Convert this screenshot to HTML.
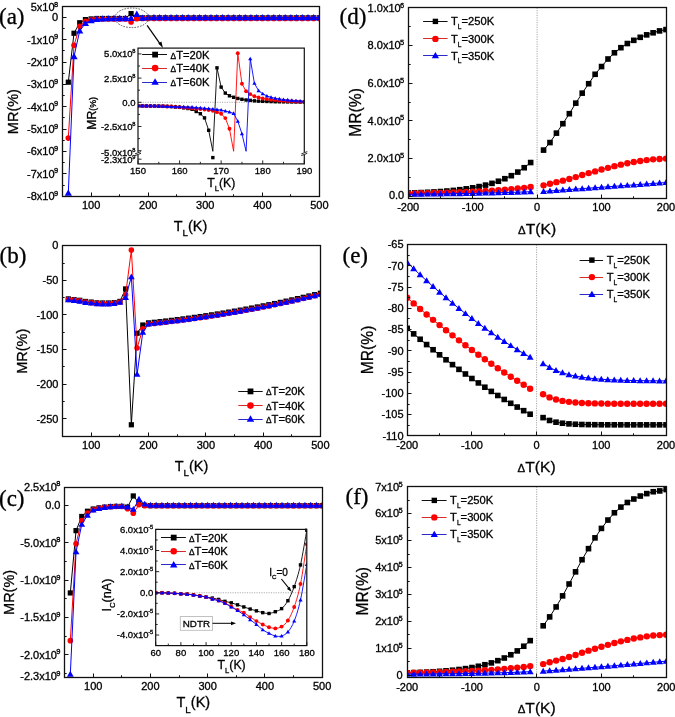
<!DOCTYPE html>
<html><head><meta charset="utf-8"><style>
html,body{margin:0;padding:0;background:#fff;width:675px;height:717px;overflow:hidden}
svg{display:block;will-change:transform}
text{stroke:#000;stroke-width:0.3px;paint-order:stroke}
</style></head><body>
<svg width="675" height="717" viewBox="0 0 675 717">
<rect width="675" height="717" fill="#fff"/>
<defs><clipPath id="cA"><rect x="62.6" y="6.2" width="256.8" height="193"/></clipPath><clipPath id="cB"><rect x="62.6" y="245.7" width="257.6" height="190.5"/></clipPath><clipPath id="cC"><rect x="64.6" y="487" width="257.5" height="193"/></clipPath><clipPath id="cAi"><rect x="138" y="48" width="166.3" height="103.5"/></clipPath></defs>
<g clip-path="url(#cA)">
<polyline points="68.31,82.2 74.01,33.25 79.72,22.74 85.43,19.61 91.13,18.94 96.84,18.49 102.55,18.49 108.25,18.49 113.96,18.49 119.67,18.49 125.37,18.49 131.08,13.58 136.79,18.27 142.49,17.82 148.2,17.82 153.91,17.82 159.61,17.82 165.32,17.82 171.03,17.82 176.73,17.82 182.44,17.82 188.15,17.82 193.85,17.82 199.56,17.82 205.27,17.82 210.97,17.82 216.68,17.82 222.39,17.82 228.09,17.82 233.8,17.82 239.51,17.82 245.21,17.82 250.92,17.82 256.63,17.82 262.33,17.82 268.04,17.82 273.75,17.82 279.45,17.82 285.16,17.82 290.87,17.82 296.57,17.82 302.28,17.82 307.99,17.82 313.69,17.82 319.4,17.82" fill="none" stroke="#000" stroke-width="1" stroke-linejoin="round" />
<rect x="65.71" y="79.6" width="5.2" height="5.2" fill="#000"/>
<rect x="71.41" y="30.65" width="5.2" height="5.2" fill="#000"/>
<rect x="77.12" y="20.14" width="5.2" height="5.2" fill="#000"/>
<rect x="82.83" y="17.01" width="5.2" height="5.2" fill="#000"/>
<rect x="88.53" y="16.34" width="5.2" height="5.2" fill="#000"/>
<rect x="94.24" y="15.89" width="5.2" height="5.2" fill="#000"/>
<rect x="99.95" y="15.89" width="5.2" height="5.2" fill="#000"/>
<rect x="105.65" y="15.89" width="5.2" height="5.2" fill="#000"/>
<rect x="111.36" y="15.89" width="5.2" height="5.2" fill="#000"/>
<rect x="117.07" y="15.89" width="5.2" height="5.2" fill="#000"/>
<rect x="122.77" y="15.89" width="5.2" height="5.2" fill="#000"/>
<rect x="128.48" y="10.98" width="5.2" height="5.2" fill="#000"/>
<rect x="134.19" y="15.67" width="5.2" height="5.2" fill="#000"/>
<rect x="139.89" y="15.22" width="5.2" height="5.2" fill="#000"/>
<rect x="145.6" y="15.22" width="5.2" height="5.2" fill="#000"/>
<rect x="151.31" y="15.22" width="5.2" height="5.2" fill="#000"/>
<rect x="157.01" y="15.22" width="5.2" height="5.2" fill="#000"/>
<rect x="162.72" y="15.22" width="5.2" height="5.2" fill="#000"/>
<rect x="168.43" y="15.22" width="5.2" height="5.2" fill="#000"/>
<rect x="174.13" y="15.22" width="5.2" height="5.2" fill="#000"/>
<rect x="179.84" y="15.22" width="5.2" height="5.2" fill="#000"/>
<rect x="185.55" y="15.22" width="5.2" height="5.2" fill="#000"/>
<rect x="191.25" y="15.22" width="5.2" height="5.2" fill="#000"/>
<rect x="196.96" y="15.22" width="5.2" height="5.2" fill="#000"/>
<rect x="202.67" y="15.22" width="5.2" height="5.2" fill="#000"/>
<rect x="208.37" y="15.22" width="5.2" height="5.2" fill="#000"/>
<rect x="214.08" y="15.22" width="5.2" height="5.2" fill="#000"/>
<rect x="219.79" y="15.22" width="5.2" height="5.2" fill="#000"/>
<rect x="225.49" y="15.22" width="5.2" height="5.2" fill="#000"/>
<rect x="231.2" y="15.22" width="5.2" height="5.2" fill="#000"/>
<rect x="236.91" y="15.22" width="5.2" height="5.2" fill="#000"/>
<rect x="242.61" y="15.22" width="5.2" height="5.2" fill="#000"/>
<rect x="248.32" y="15.22" width="5.2" height="5.2" fill="#000"/>
<rect x="254.03" y="15.22" width="5.2" height="5.2" fill="#000"/>
<rect x="259.73" y="15.22" width="5.2" height="5.2" fill="#000"/>
<rect x="265.44" y="15.22" width="5.2" height="5.2" fill="#000"/>
<rect x="271.15" y="15.22" width="5.2" height="5.2" fill="#000"/>
<rect x="276.85" y="15.22" width="5.2" height="5.2" fill="#000"/>
<rect x="282.56" y="15.22" width="5.2" height="5.2" fill="#000"/>
<rect x="288.27" y="15.22" width="5.2" height="5.2" fill="#000"/>
<rect x="293.97" y="15.22" width="5.2" height="5.2" fill="#000"/>
<rect x="299.68" y="15.22" width="5.2" height="5.2" fill="#000"/>
<rect x="305.39" y="15.22" width="5.2" height="5.2" fill="#000"/>
<rect x="311.09" y="15.22" width="5.2" height="5.2" fill="#000"/>
<rect x="316.8" y="15.22" width="5.2" height="5.2" fill="#000"/>
</g>
<g clip-path="url(#cA)">
<polyline points="68.31,138.08 74.01,45.32 79.72,26.32 85.43,21.18 91.13,19.84 96.84,19.16 102.55,18.94 108.25,18.94 113.96,18.94 119.67,18.94 125.37,18.94 131.08,22.07 136.79,18.72 142.49,18.38 148.2,18.38 153.91,18.38 159.61,18.38 165.32,18.38 171.03,18.38 176.73,18.38 182.44,18.38 188.15,18.38 193.85,18.38 199.56,18.38 205.27,18.38 210.97,18.38 216.68,18.38 222.39,18.38 228.09,18.38 233.8,18.38 239.51,18.38 245.21,18.38 250.92,18.38 256.63,18.38 262.33,18.38 268.04,18.38 273.75,18.38 279.45,18.38 285.16,18.38 290.87,18.38 296.57,18.38 302.28,18.38 307.99,18.38 313.69,18.38 319.4,18.38" fill="none" stroke="#ff0000" stroke-width="1" stroke-linejoin="round" />
<circle cx="68.31" cy="138.08" r="2.8" fill="#ff0000"/>
<circle cx="74.01" cy="45.32" r="2.8" fill="#ff0000"/>
<circle cx="79.72" cy="26.32" r="2.8" fill="#ff0000"/>
<circle cx="85.43" cy="21.18" r="2.8" fill="#ff0000"/>
<circle cx="91.13" cy="19.84" r="2.8" fill="#ff0000"/>
<circle cx="96.84" cy="19.16" r="2.8" fill="#ff0000"/>
<circle cx="102.55" cy="18.94" r="2.8" fill="#ff0000"/>
<circle cx="108.25" cy="18.94" r="2.8" fill="#ff0000"/>
<circle cx="113.96" cy="18.94" r="2.8" fill="#ff0000"/>
<circle cx="119.67" cy="18.94" r="2.8" fill="#ff0000"/>
<circle cx="125.37" cy="18.94" r="2.8" fill="#ff0000"/>
<circle cx="131.08" cy="22.07" r="2.8" fill="#ff0000"/>
<circle cx="136.79" cy="18.72" r="2.8" fill="#ff0000"/>
<circle cx="142.49" cy="18.38" r="2.8" fill="#ff0000"/>
<circle cx="148.2" cy="18.38" r="2.8" fill="#ff0000"/>
<circle cx="153.91" cy="18.38" r="2.8" fill="#ff0000"/>
<circle cx="159.61" cy="18.38" r="2.8" fill="#ff0000"/>
<circle cx="165.32" cy="18.38" r="2.8" fill="#ff0000"/>
<circle cx="171.03" cy="18.38" r="2.8" fill="#ff0000"/>
<circle cx="176.73" cy="18.38" r="2.8" fill="#ff0000"/>
<circle cx="182.44" cy="18.38" r="2.8" fill="#ff0000"/>
<circle cx="188.15" cy="18.38" r="2.8" fill="#ff0000"/>
<circle cx="193.85" cy="18.38" r="2.8" fill="#ff0000"/>
<circle cx="199.56" cy="18.38" r="2.8" fill="#ff0000"/>
<circle cx="205.27" cy="18.38" r="2.8" fill="#ff0000"/>
<circle cx="210.97" cy="18.38" r="2.8" fill="#ff0000"/>
<circle cx="216.68" cy="18.38" r="2.8" fill="#ff0000"/>
<circle cx="222.39" cy="18.38" r="2.8" fill="#ff0000"/>
<circle cx="228.09" cy="18.38" r="2.8" fill="#ff0000"/>
<circle cx="233.8" cy="18.38" r="2.8" fill="#ff0000"/>
<circle cx="239.51" cy="18.38" r="2.8" fill="#ff0000"/>
<circle cx="245.21" cy="18.38" r="2.8" fill="#ff0000"/>
<circle cx="250.92" cy="18.38" r="2.8" fill="#ff0000"/>
<circle cx="256.63" cy="18.38" r="2.8" fill="#ff0000"/>
<circle cx="262.33" cy="18.38" r="2.8" fill="#ff0000"/>
<circle cx="268.04" cy="18.38" r="2.8" fill="#ff0000"/>
<circle cx="273.75" cy="18.38" r="2.8" fill="#ff0000"/>
<circle cx="279.45" cy="18.38" r="2.8" fill="#ff0000"/>
<circle cx="285.16" cy="18.38" r="2.8" fill="#ff0000"/>
<circle cx="290.87" cy="18.38" r="2.8" fill="#ff0000"/>
<circle cx="296.57" cy="18.38" r="2.8" fill="#ff0000"/>
<circle cx="302.28" cy="18.38" r="2.8" fill="#ff0000"/>
<circle cx="307.99" cy="18.38" r="2.8" fill="#ff0000"/>
<circle cx="313.69" cy="18.38" r="2.8" fill="#ff0000"/>
<circle cx="319.4" cy="18.38" r="2.8" fill="#ff0000"/>
</g>
<g clip-path="url(#cA)">
<polyline points="68.31,193.07 74.01,56.49 79.72,30.79 85.43,23.41 91.13,20.51 96.84,19.39 102.55,18.94 108.25,18.72 113.96,18.49 119.67,18.49 125.37,18.49 131.08,18.27 136.79,14.25 142.49,18.05 148.2,17.6 153.91,17.6 159.61,17.6 165.32,17.6 171.03,17.6 176.73,17.6 182.44,17.6 188.15,17.6 193.85,17.6 199.56,17.6 205.27,17.6 210.97,17.6 216.68,17.6 222.39,17.6 228.09,17.6 233.8,17.6 239.51,17.6 245.21,17.6 250.92,17.6 256.63,17.6 262.33,17.6 268.04,17.6 273.75,17.6 279.45,17.6 285.16,17.6 290.87,17.6 296.57,17.6 302.28,17.6 307.99,17.6 313.69,17.6 319.4,17.6" fill="none" stroke="#0000ff" stroke-width="1" stroke-linejoin="round" />
<polygon points="68.31,189.43 71.92,195.7 64.69,195.7" fill="#0000ff"/>
<polygon points="74.01,52.86 77.63,59.13 70.4,59.13" fill="#0000ff"/>
<polygon points="79.72,27.15 83.34,33.42 76.1,33.42" fill="#0000ff"/>
<polygon points="85.43,19.77 89.04,26.05 81.81,26.05" fill="#0000ff"/>
<polygon points="91.13,16.87 94.75,23.14 87.52,23.14" fill="#0000ff"/>
<polygon points="96.84,15.75 100.46,22.02 93.22,22.02" fill="#0000ff"/>
<polygon points="102.55,15.3 106.16,21.58 98.93,21.58" fill="#0000ff"/>
<polygon points="108.25,15.08 111.87,21.35 104.64,21.35" fill="#0000ff"/>
<polygon points="113.96,14.86 117.58,21.13 110.34,21.13" fill="#0000ff"/>
<polygon points="119.67,14.86 123.28,21.13 116.05,21.13" fill="#0000ff"/>
<polygon points="125.37,14.86 128.99,21.13 121.76,21.13" fill="#0000ff"/>
<polygon points="131.08,14.63 134.7,20.9 127.46,20.9" fill="#0000ff"/>
<polygon points="136.79,10.61 140.4,16.88 133.17,16.88" fill="#0000ff"/>
<polygon points="142.49,14.41 146.11,20.68 138.88,20.68" fill="#0000ff"/>
<polygon points="148.2,13.96 151.82,20.23 144.58,20.23" fill="#0000ff"/>
<polygon points="153.91,13.96 157.52,20.23 150.29,20.23" fill="#0000ff"/>
<polygon points="159.61,13.96 163.23,20.23 156,20.23" fill="#0000ff"/>
<polygon points="165.32,13.96 168.94,20.23 161.7,20.23" fill="#0000ff"/>
<polygon points="171.03,13.96 174.64,20.23 167.41,20.23" fill="#0000ff"/>
<polygon points="176.73,13.96 180.35,20.23 173.12,20.23" fill="#0000ff"/>
<polygon points="182.44,13.96 186.06,20.23 178.82,20.23" fill="#0000ff"/>
<polygon points="188.15,13.96 191.76,20.23 184.53,20.23" fill="#0000ff"/>
<polygon points="193.85,13.96 197.47,20.23 190.24,20.23" fill="#0000ff"/>
<polygon points="199.56,13.96 203.18,20.23 195.94,20.23" fill="#0000ff"/>
<polygon points="205.27,13.96 208.88,20.23 201.65,20.23" fill="#0000ff"/>
<polygon points="210.97,13.96 214.59,20.23 207.36,20.23" fill="#0000ff"/>
<polygon points="216.68,13.96 220.3,20.23 213.06,20.23" fill="#0000ff"/>
<polygon points="222.39,13.96 226,20.23 218.77,20.23" fill="#0000ff"/>
<polygon points="228.09,13.96 231.71,20.23 224.48,20.23" fill="#0000ff"/>
<polygon points="233.8,13.96 237.42,20.23 230.18,20.23" fill="#0000ff"/>
<polygon points="239.51,13.96 243.12,20.23 235.89,20.23" fill="#0000ff"/>
<polygon points="245.21,13.96 248.83,20.23 241.6,20.23" fill="#0000ff"/>
<polygon points="250.92,13.96 254.54,20.23 247.3,20.23" fill="#0000ff"/>
<polygon points="256.63,13.96 260.24,20.23 253.01,20.23" fill="#0000ff"/>
<polygon points="262.33,13.96 265.95,20.23 258.72,20.23" fill="#0000ff"/>
<polygon points="268.04,13.96 271.66,20.23 264.42,20.23" fill="#0000ff"/>
<polygon points="273.75,13.96 277.36,20.23 270.13,20.23" fill="#0000ff"/>
<polygon points="279.45,13.96 283.07,20.23 275.84,20.23" fill="#0000ff"/>
<polygon points="285.16,13.96 288.78,20.23 281.54,20.23" fill="#0000ff"/>
<polygon points="290.87,13.96 294.48,20.23 287.25,20.23" fill="#0000ff"/>
<polygon points="296.57,13.96 300.19,20.23 292.96,20.23" fill="#0000ff"/>
<polygon points="302.28,13.96 305.9,20.23 298.66,20.23" fill="#0000ff"/>
<polygon points="307.99,13.96 311.6,20.23 304.37,20.23" fill="#0000ff"/>
<polygon points="313.69,13.96 317.31,20.23 310.08,20.23" fill="#0000ff"/>
<polygon points="319.4,13.96 323.02,20.23 315.78,20.23" fill="#0000ff"/>
</g>
<rect x="62.5" y="6.5" width="257" height="190" fill="none" stroke="#111" stroke-width="1.3"/>
<line x1="62.5" y1="17.5" x2="66.5" y2="17.5" stroke="#111" stroke-width="1" />
<line x1="62.5" y1="39.5" x2="66.5" y2="39.5" stroke="#111" stroke-width="1" />
<line x1="62.5" y1="62.5" x2="66.5" y2="62.5" stroke="#111" stroke-width="1" />
<line x1="62.5" y1="84.5" x2="66.5" y2="84.5" stroke="#111" stroke-width="1" />
<line x1="62.5" y1="106.5" x2="66.5" y2="106.5" stroke="#111" stroke-width="1" />
<line x1="62.5" y1="129.5" x2="66.5" y2="129.5" stroke="#111" stroke-width="1" />
<line x1="62.5" y1="151.5" x2="66.5" y2="151.5" stroke="#111" stroke-width="1" />
<line x1="62.5" y1="173.5" x2="66.5" y2="173.5" stroke="#111" stroke-width="1" />
<line x1="62.5" y1="196.5" x2="66.5" y2="196.5" stroke="#111" stroke-width="1" />
<line x1="62.5" y1="28.5" x2="64.7" y2="28.5" stroke="#111" stroke-width="1" />
<line x1="62.5" y1="50.5" x2="64.7" y2="50.5" stroke="#111" stroke-width="1" />
<line x1="62.5" y1="73.5" x2="64.7" y2="73.5" stroke="#111" stroke-width="1" />
<line x1="62.5" y1="95.5" x2="64.7" y2="95.5" stroke="#111" stroke-width="1" />
<line x1="62.5" y1="117.5" x2="64.7" y2="117.5" stroke="#111" stroke-width="1" />
<line x1="62.5" y1="140.5" x2="64.7" y2="140.5" stroke="#111" stroke-width="1" />
<line x1="62.5" y1="162.5" x2="64.7" y2="162.5" stroke="#111" stroke-width="1" />
<line x1="62.5" y1="185.5" x2="64.7" y2="185.5" stroke="#111" stroke-width="1" />
<line x1="91.5" y1="196.5" x2="91.5" y2="192.5" stroke="#111" stroke-width="1" />
<line x1="148.5" y1="196.5" x2="148.5" y2="192.5" stroke="#111" stroke-width="1" />
<line x1="205.5" y1="196.5" x2="205.5" y2="192.5" stroke="#111" stroke-width="1" />
<line x1="262.5" y1="196.5" x2="262.5" y2="192.5" stroke="#111" stroke-width="1" />
<line x1="319.5" y1="196.5" x2="319.5" y2="192.5" stroke="#111" stroke-width="1" />
<line x1="119.5" y1="196.5" x2="119.5" y2="194.3" stroke="#111" stroke-width="1" />
<line x1="176.5" y1="196.5" x2="176.5" y2="194.3" stroke="#111" stroke-width="1" />
<line x1="233.5" y1="196.5" x2="233.5" y2="194.3" stroke="#111" stroke-width="1" />
<line x1="290.5" y1="196.5" x2="290.5" y2="194.3" stroke="#111" stroke-width="1" />
<text transform="translate(58.1,11.18) scale(1.05,1)" font-size="10.5" text-anchor="end" font-family='"Liberation Sans", sans-serif' >5x10<tspan dx="-0.6" dy="-4.41" font-size="7.14">8</tspan></text>
<text transform="translate(58.1,21.16) scale(1.05,1)" font-size="10.5" text-anchor="end" font-family='"Liberation Sans", sans-serif' >0</text>
<text transform="translate(58.1,43.51) scale(1.05,1)" font-size="10.5" text-anchor="end" font-family='"Liberation Sans", sans-serif' >-1x10<tspan dx="-0.6" dy="-4.41" font-size="7.14">9</tspan></text>
<text transform="translate(58.1,65.86) scale(1.05,1)" font-size="10.5" text-anchor="end" font-family='"Liberation Sans", sans-serif' >-2x10<tspan dx="-0.6" dy="-4.41" font-size="7.14">9</tspan></text>
<text transform="translate(58.1,88.22) scale(1.05,1)" font-size="10.5" text-anchor="end" font-family='"Liberation Sans", sans-serif' >-3x10<tspan dx="-0.6" dy="-4.41" font-size="7.14">9</tspan></text>
<text transform="translate(58.1,110.57) scale(1.05,1)" font-size="10.5" text-anchor="end" font-family='"Liberation Sans", sans-serif' >-4x10<tspan dx="-0.6" dy="-4.41" font-size="7.14">9</tspan></text>
<text transform="translate(58.1,132.92) scale(1.05,1)" font-size="10.5" text-anchor="end" font-family='"Liberation Sans", sans-serif' >-5x10<tspan dx="-0.6" dy="-4.41" font-size="7.14">9</tspan></text>
<text transform="translate(58.1,155.27) scale(1.05,1)" font-size="10.5" text-anchor="end" font-family='"Liberation Sans", sans-serif' >-6x10<tspan dx="-0.6" dy="-4.41" font-size="7.14">9</tspan></text>
<text transform="translate(58.1,177.63) scale(1.05,1)" font-size="10.5" text-anchor="end" font-family='"Liberation Sans", sans-serif' >-7x10<tspan dx="-0.6" dy="-4.41" font-size="7.14">9</tspan></text>
<text transform="translate(58.1,199.98) scale(1.05,1)" font-size="10.5" text-anchor="end" font-family='"Liberation Sans", sans-serif' >-8x10<tspan dx="-0.6" dy="-4.41" font-size="7.14">9</tspan></text>
<text transform="translate(91.13,209.2) scale(1.05,1)" font-size="10.5" text-anchor="middle" font-family='"Liberation Sans", sans-serif' >100</text>
<text transform="translate(148.2,209.2) scale(1.05,1)" font-size="10.5" text-anchor="middle" font-family='"Liberation Sans", sans-serif' >200</text>
<text transform="translate(205.27,209.2) scale(1.05,1)" font-size="10.5" text-anchor="middle" font-family='"Liberation Sans", sans-serif' >300</text>
<text transform="translate(262.33,209.2) scale(1.05,1)" font-size="10.5" text-anchor="middle" font-family='"Liberation Sans", sans-serif' >400</text>
<text transform="translate(319.4,209.2) scale(1.05,1)" font-size="10.5" text-anchor="middle" font-family='"Liberation Sans", sans-serif' >500</text>
<text transform="translate(190.5,230.5) scale(1.0,1)" font-size="14.5" text-anchor="middle" font-family='"Liberation Sans", sans-serif' >T<tspan dy="5.51" font-size="9.86">L</tspan><tspan dy="-5.51">(K)</tspan></text>
<text transform="translate(17.9,111.6) rotate(-90) scale(1,1.0)" font-size="14.5" text-anchor="middle" font-family='"Liberation Sans", sans-serif' >MR(%)</text>
<text transform="translate(-1,23.6) scale(1.0,1)" font-size="23" text-anchor="start" font-family='"Liberation Serif", serif' >(a)</text>
<ellipse cx="131.8" cy="17.8" rx="16.8" ry="9.8" fill="none" stroke="#444" stroke-width="0.9" stroke-dasharray="1.6,1.2"/>
<line x1="147.1" y1="25.4" x2="160.6" y2="44.6" stroke="#000" stroke-width="1.2" />
<polygon points="162.9,47.9 158.3,43.6 161.4,41.5" fill="#000"/>
<rect x="138" y="48.1" width="166.3" height="115.8" fill="#fff"/>
<line x1="138" y1="102.3" x2="304.3" y2="102.3" stroke="#999" stroke-width="0.8" stroke-dasharray="1.2,1.2"/>
<clipPath id="cAi2"><rect x="138" y="44" width="166.3" height="119.9"/></clipPath><g clip-path="url(#cAi2)">
<polyline points="138,105.78 142.16,105.82 146.31,105.85 150.47,105.88 154.63,105.98 158.79,106.08 162.94,106.17 167.1,106.37 171.26,106.56 175.42,106.95 179.57,107.33 183.73,107.82 187.89,108.5 192.05,109.27 196.21,111.5 200.36,113.72 204.52,117.88 208.68,130.28 212.84,151.3 216.99,67.84 221.15,87.1 225.31,93.1 229.47,95.81 233.62,97.27 237.78,98.43 241.94,99.3 246.09,99.98 250.25,100.36 254.41,100.85 258.57,101.14 262.73,101.33 266.88,101.46 271.04,101.59 275.2,101.72 279.36,101.78 283.51,101.85 287.67,101.91 291.83,101.96 295.99,102.01 300.14,102.06 304.3,102.11" fill="none" stroke="#000" stroke-width="0.9" stroke-linejoin="round" />
<rect x="136.3" y="104.08" width="3.4" height="3.4" fill="#000"/>
<rect x="140.46" y="104.12" width="3.4" height="3.4" fill="#000"/>
<rect x="144.62" y="104.15" width="3.4" height="3.4" fill="#000"/>
<rect x="148.77" y="104.18" width="3.4" height="3.4" fill="#000"/>
<rect x="152.93" y="104.28" width="3.4" height="3.4" fill="#000"/>
<rect x="157.09" y="104.38" width="3.4" height="3.4" fill="#000"/>
<rect x="161.25" y="104.47" width="3.4" height="3.4" fill="#000"/>
<rect x="165.4" y="104.67" width="3.4" height="3.4" fill="#000"/>
<rect x="169.56" y="104.86" width="3.4" height="3.4" fill="#000"/>
<rect x="173.72" y="105.25" width="3.4" height="3.4" fill="#000"/>
<rect x="177.88" y="105.63" width="3.4" height="3.4" fill="#000"/>
<rect x="182.03" y="106.12" width="3.4" height="3.4" fill="#000"/>
<rect x="186.19" y="106.8" width="3.4" height="3.4" fill="#000"/>
<rect x="190.35" y="107.57" width="3.4" height="3.4" fill="#000"/>
<rect x="194.51" y="109.8" width="3.4" height="3.4" fill="#000"/>
<rect x="198.66" y="112.02" width="3.4" height="3.4" fill="#000"/>
<rect x="202.82" y="116.18" width="3.4" height="3.4" fill="#000"/>
<rect x="206.98" y="128.58" width="3.4" height="3.4" fill="#000"/>
<rect x="211.14" y="155.9" width="3.4" height="3.4" fill="#000"/>
<rect x="215.29" y="66.14" width="3.4" height="3.4" fill="#000"/>
<rect x="219.45" y="85.4" width="3.4" height="3.4" fill="#000"/>
<rect x="223.61" y="91.4" width="3.4" height="3.4" fill="#000"/>
<rect x="227.77" y="94.11" width="3.4" height="3.4" fill="#000"/>
<rect x="231.92" y="95.57" width="3.4" height="3.4" fill="#000"/>
<rect x="236.08" y="96.73" width="3.4" height="3.4" fill="#000"/>
<rect x="240.24" y="97.6" width="3.4" height="3.4" fill="#000"/>
<rect x="244.4" y="98.28" width="3.4" height="3.4" fill="#000"/>
<rect x="248.55" y="98.66" width="3.4" height="3.4" fill="#000"/>
<rect x="252.71" y="99.15" width="3.4" height="3.4" fill="#000"/>
<rect x="256.87" y="99.44" width="3.4" height="3.4" fill="#000"/>
<rect x="261.03" y="99.63" width="3.4" height="3.4" fill="#000"/>
<rect x="265.18" y="99.76" width="3.4" height="3.4" fill="#000"/>
<rect x="269.34" y="99.89" width="3.4" height="3.4" fill="#000"/>
<rect x="273.5" y="100.02" width="3.4" height="3.4" fill="#000"/>
<rect x="277.66" y="100.08" width="3.4" height="3.4" fill="#000"/>
<rect x="281.81" y="100.15" width="3.4" height="3.4" fill="#000"/>
<rect x="285.97" y="100.21" width="3.4" height="3.4" fill="#000"/>
<rect x="290.13" y="100.26" width="3.4" height="3.4" fill="#000"/>
<rect x="294.29" y="100.31" width="3.4" height="3.4" fill="#000"/>
<rect x="298.44" y="100.36" width="3.4" height="3.4" fill="#000"/>
<rect x="302.6" y="100.41" width="3.4" height="3.4" fill="#000"/>
<polyline points="138,105.78 142.16,105.86 146.31,105.94 150.47,106.02 154.63,106.09 158.79,106.17 162.94,106.3 167.1,106.43 171.26,106.56 175.42,106.85 179.57,107.14 183.73,107.62 187.89,107.91 192.05,108.3 196.21,108.69 200.36,109.08 204.52,109.56 208.68,110.04 212.84,110.72 216.99,112.17 221.15,113.72 225.31,118.08 229.47,128.82 233.62,151.3 237.78,53.22 241.94,83.81 246.09,91.26 250.25,94.17 254.41,96.3 258.57,97.46 262.73,98.43 266.88,99.11 271.04,99.69 275.2,100.07 279.36,100.46 283.51,100.75 287.67,101.04 291.83,101.28 295.99,101.53 300.14,101.67 304.3,101.82" fill="none" stroke="#ff0000" stroke-width="0.9" stroke-linejoin="round" />
<circle cx="138" cy="105.78" r="1.95" fill="#ff0000"/>
<circle cx="142.16" cy="105.86" r="1.95" fill="#ff0000"/>
<circle cx="146.31" cy="105.94" r="1.95" fill="#ff0000"/>
<circle cx="150.47" cy="106.02" r="1.95" fill="#ff0000"/>
<circle cx="154.63" cy="106.09" r="1.95" fill="#ff0000"/>
<circle cx="158.79" cy="106.17" r="1.95" fill="#ff0000"/>
<circle cx="162.94" cy="106.3" r="1.95" fill="#ff0000"/>
<circle cx="167.1" cy="106.43" r="1.95" fill="#ff0000"/>
<circle cx="171.26" cy="106.56" r="1.95" fill="#ff0000"/>
<circle cx="175.42" cy="106.85" r="1.95" fill="#ff0000"/>
<circle cx="179.57" cy="107.14" r="1.95" fill="#ff0000"/>
<circle cx="183.73" cy="107.62" r="1.95" fill="#ff0000"/>
<circle cx="187.89" cy="107.91" r="1.95" fill="#ff0000"/>
<circle cx="192.05" cy="108.3" r="1.95" fill="#ff0000"/>
<circle cx="196.21" cy="108.69" r="1.95" fill="#ff0000"/>
<circle cx="200.36" cy="109.08" r="1.95" fill="#ff0000"/>
<circle cx="204.52" cy="109.56" r="1.95" fill="#ff0000"/>
<circle cx="208.68" cy="110.04" r="1.95" fill="#ff0000"/>
<circle cx="212.84" cy="110.72" r="1.95" fill="#ff0000"/>
<circle cx="216.99" cy="112.17" r="1.95" fill="#ff0000"/>
<circle cx="221.15" cy="113.72" r="1.95" fill="#ff0000"/>
<circle cx="225.31" cy="118.08" r="1.95" fill="#ff0000"/>
<circle cx="229.47" cy="128.82" r="1.95" fill="#ff0000"/>
<circle cx="237.78" cy="53.22" r="1.95" fill="#ff0000"/>
<circle cx="241.94" cy="83.81" r="1.95" fill="#ff0000"/>
<circle cx="246.09" cy="91.26" r="1.95" fill="#ff0000"/>
<circle cx="250.25" cy="94.17" r="1.95" fill="#ff0000"/>
<circle cx="254.41" cy="96.3" r="1.95" fill="#ff0000"/>
<circle cx="258.57" cy="97.46" r="1.95" fill="#ff0000"/>
<circle cx="262.73" cy="98.43" r="1.95" fill="#ff0000"/>
<circle cx="266.88" cy="99.11" r="1.95" fill="#ff0000"/>
<circle cx="271.04" cy="99.69" r="1.95" fill="#ff0000"/>
<circle cx="275.2" cy="100.07" r="1.95" fill="#ff0000"/>
<circle cx="279.36" cy="100.46" r="1.95" fill="#ff0000"/>
<circle cx="283.51" cy="100.75" r="1.95" fill="#ff0000"/>
<circle cx="287.67" cy="101.04" r="1.95" fill="#ff0000"/>
<circle cx="291.83" cy="101.28" r="1.95" fill="#ff0000"/>
<circle cx="295.99" cy="101.53" r="1.95" fill="#ff0000"/>
<circle cx="300.14" cy="101.67" r="1.95" fill="#ff0000"/>
<circle cx="304.3" cy="101.82" r="1.95" fill="#ff0000"/>
<polyline points="138,105.78 142.16,105.86 146.31,105.94 150.47,106.02 154.63,106.09 158.79,106.17 162.94,106.31 167.1,106.44 171.26,106.58 175.42,106.71 179.57,106.85 183.73,106.95 187.89,107.04 192.05,107.14 196.21,107.62 200.36,107.91 204.52,108.3 208.68,108.69 212.84,109.08 216.99,109.56 221.15,110.04 225.31,111.01 229.47,111.98 233.62,113.43 237.78,121.18 241.94,133.76 246.09,151.3 250.25,58.74 254.41,83.33 258.57,90.68 262.73,93.78 266.88,96.01 271.04,97.27 275.2,98.23 279.36,98.91 283.51,99.49 287.67,99.98 291.83,100.36 295.99,100.75 300.14,101.04 304.3,101.33" fill="none" stroke="#0000ff" stroke-width="0.9" stroke-linejoin="round" />
<polygon points="138,103.68 140.09,107.31 135.91,107.31" fill="#0000ff"/>
<polygon points="142.16,103.76 144.25,107.39 140.07,107.39" fill="#0000ff"/>
<polygon points="146.31,103.84 148.41,107.46 144.22,107.46" fill="#0000ff"/>
<polygon points="150.47,103.91 152.56,107.54 148.38,107.54" fill="#0000ff"/>
<polygon points="154.63,103.99 156.72,107.62 152.54,107.62" fill="#0000ff"/>
<polygon points="158.79,104.07 160.88,107.69 156.7,107.69" fill="#0000ff"/>
<polygon points="162.94,104.2 165.04,107.83 160.85,107.83" fill="#0000ff"/>
<polygon points="167.1,104.34 169.19,107.97 165.01,107.97" fill="#0000ff"/>
<polygon points="171.26,104.48 173.35,108.1 169.17,108.1" fill="#0000ff"/>
<polygon points="175.42,104.61 177.51,108.24 173.33,108.24" fill="#0000ff"/>
<polygon points="179.57,104.75 181.67,108.37 177.48,108.37" fill="#0000ff"/>
<polygon points="183.73,104.84 185.82,108.47 181.64,108.47" fill="#0000ff"/>
<polygon points="187.89,104.94 189.98,108.57 185.8,108.57" fill="#0000ff"/>
<polygon points="192.05,105.04 194.14,108.66 189.96,108.66" fill="#0000ff"/>
<polygon points="196.21,105.52 198.3,109.15 194.11,109.15" fill="#0000ff"/>
<polygon points="200.36,105.81 202.45,109.44 198.27,109.44" fill="#0000ff"/>
<polygon points="204.52,106.2 206.61,109.82 202.43,109.82" fill="#0000ff"/>
<polygon points="208.68,106.59 210.77,110.21 206.59,110.21" fill="#0000ff"/>
<polygon points="212.84,106.97 214.93,110.6 210.74,110.6" fill="#0000ff"/>
<polygon points="216.99,107.46 219.08,111.08 214.9,111.08" fill="#0000ff"/>
<polygon points="221.15,107.94 223.24,111.57 219.06,111.57" fill="#0000ff"/>
<polygon points="225.31,108.91 227.4,112.53 223.22,112.53" fill="#0000ff"/>
<polygon points="229.47,109.88 231.56,113.5 227.37,113.5" fill="#0000ff"/>
<polygon points="233.62,111.33 235.71,114.95 231.53,114.95" fill="#0000ff"/>
<polygon points="237.78,119.07 239.87,122.7 235.69,122.7" fill="#0000ff"/>
<polygon points="241.94,131.66 244.03,135.28 239.85,135.28" fill="#0000ff"/>
<polygon points="250.25,56.64 252.34,60.26 248.16,60.26" fill="#0000ff"/>
<polygon points="254.41,81.22 256.5,84.85 252.32,84.85" fill="#0000ff"/>
<polygon points="258.57,88.58 260.66,92.21 256.48,92.21" fill="#0000ff"/>
<polygon points="262.73,91.68 264.82,95.3 260.63,95.3" fill="#0000ff"/>
<polygon points="266.88,93.9 268.97,97.53 264.79,97.53" fill="#0000ff"/>
<polygon points="271.04,95.16 273.13,98.79 268.95,98.79" fill="#0000ff"/>
<polygon points="275.2,96.13 277.29,99.76 273.11,99.76" fill="#0000ff"/>
<polygon points="279.36,96.81 281.45,100.43 277.26,100.43" fill="#0000ff"/>
<polygon points="283.51,97.39 285.6,101.02 281.42,101.02" fill="#0000ff"/>
<polygon points="287.67,97.87 289.76,101.5 285.58,101.5" fill="#0000ff"/>
<polygon points="291.83,98.26 293.92,101.89 289.74,101.89" fill="#0000ff"/>
<polygon points="295.99,98.65 298.08,102.27 293.89,102.27" fill="#0000ff"/>
<polygon points="300.14,98.94 302.23,102.56 298.05,102.56" fill="#0000ff"/>
<polygon points="304.3,99.23 306.39,102.85 302.21,102.85" fill="#0000ff"/>
</g>
<rect x="138" y="48.1" width="166.3" height="115.8" fill="none" stroke="#111" stroke-width="1.2"/>
<line x1="138" y1="53.9" x2="141.5" y2="53.9" stroke="#111" stroke-width="0.9" />
<line x1="138" y1="78.1" x2="141.5" y2="78.1" stroke="#111" stroke-width="0.9" />
<line x1="138" y1="102.3" x2="141.5" y2="102.3" stroke="#111" stroke-width="0.9" />
<line x1="138" y1="126.5" x2="141.5" y2="126.5" stroke="#111" stroke-width="0.9" />
<line x1="138" y1="150.7" x2="141.5" y2="150.7" stroke="#111" stroke-width="0.9" />
<line x1="138" y1="66" x2="140" y2="66" stroke="#111" stroke-width="0.9" />
<line x1="138" y1="90.2" x2="140" y2="90.2" stroke="#111" stroke-width="0.9" />
<line x1="138" y1="114.4" x2="140" y2="114.4" stroke="#111" stroke-width="0.9" />
<line x1="138" y1="138.6" x2="140" y2="138.6" stroke="#111" stroke-width="0.9" />
<line x1="138" y1="159.2" x2="141.5" y2="159.2" stroke="#111" stroke-width="0.9" />
<line x1="138" y1="163.9" x2="138" y2="160.4" stroke="#111" stroke-width="0.9" />
<line x1="179.57" y1="163.9" x2="179.57" y2="160.4" stroke="#111" stroke-width="0.9" />
<line x1="221.15" y1="163.9" x2="221.15" y2="160.4" stroke="#111" stroke-width="0.9" />
<line x1="262.73" y1="163.9" x2="262.73" y2="160.4" stroke="#111" stroke-width="0.9" />
<line x1="304.3" y1="163.9" x2="304.3" y2="160.4" stroke="#111" stroke-width="0.9" />
<line x1="158.79" y1="163.9" x2="158.79" y2="161.8" stroke="#111" stroke-width="0.9" />
<line x1="200.36" y1="163.9" x2="200.36" y2="161.8" stroke="#111" stroke-width="0.9" />
<line x1="241.94" y1="163.9" x2="241.94" y2="161.8" stroke="#111" stroke-width="0.9" />
<line x1="283.51" y1="163.9" x2="283.51" y2="161.8" stroke="#111" stroke-width="0.9" />
<rect x="135" y="152.2" width="6" height="2.6" fill="#fff"/>
<line x1="135" y1="153.9" x2="141" y2="151.6" stroke="#111" stroke-width="0.9" />
<line x1="135" y1="155.6" x2="141" y2="153.3" stroke="#111" stroke-width="0.9" />
<rect x="301.3" y="152.2" width="6" height="2.6" fill="#fff"/>
<line x1="301.3" y1="153.9" x2="307.3" y2="151.6" stroke="#111" stroke-width="0.9" />
<line x1="301.3" y1="155.6" x2="307.3" y2="153.3" stroke="#111" stroke-width="0.9" />
<text transform="translate(135.5,57.32) scale(1.0,1)" font-size="9.5" text-anchor="end" font-family='"Liberation Sans", sans-serif' >5.0x10<tspan dx="-0.3" dy="-3.99" font-size="5.70">8</tspan></text>
<text transform="translate(135.5,81.52) scale(1.0,1)" font-size="9.5" text-anchor="end" font-family='"Liberation Sans", sans-serif' >2.5x10<tspan dx="-0.3" dy="-3.99" font-size="5.70">8</tspan></text>
<text transform="translate(135.5,105.72) scale(1.0,1)" font-size="9.5" text-anchor="end" font-family='"Liberation Sans", sans-serif' >0.0</text>
<text transform="translate(135.5,129.92) scale(1.0,1)" font-size="9.5" text-anchor="end" font-family='"Liberation Sans", sans-serif' >-2.5x10<tspan dx="-0.3" dy="-3.99" font-size="5.70">8</tspan></text>
<text transform="translate(135.5,155.72) scale(1.0,1)" font-size="9.5" text-anchor="end" font-family='"Liberation Sans", sans-serif' >-5.0x10<tspan dx="-0.3" dy="-3.99" font-size="5.70">8</tspan></text>
<text transform="translate(135.5,163.32) scale(1.0,1)" font-size="9.5" text-anchor="end" font-family='"Liberation Sans", sans-serif' >-2.3x10<tspan dx="-0.3" dy="-3.99" font-size="5.70">9</tspan></text>
<text transform="translate(138,174.4) scale(1.0,1)" font-size="9.5" text-anchor="middle" font-family='"Liberation Sans", sans-serif' >150</text>
<text transform="translate(179.57,174.4) scale(1.0,1)" font-size="9.5" text-anchor="middle" font-family='"Liberation Sans", sans-serif' >160</text>
<text transform="translate(221.15,174.4) scale(1.0,1)" font-size="9.5" text-anchor="middle" font-family='"Liberation Sans", sans-serif' >170</text>
<text transform="translate(262.73,174.4) scale(1.0,1)" font-size="9.5" text-anchor="middle" font-family='"Liberation Sans", sans-serif' >180</text>
<text transform="translate(304.3,174.4) scale(1.0,1)" font-size="9.5" text-anchor="middle" font-family='"Liberation Sans", sans-serif' >190</text>
<text transform="translate(221.3,186.8) scale(1.0,1)" font-size="12.3" text-anchor="middle" font-family='"Liberation Sans", sans-serif' >T<tspan dy="3.69" font-size="7.63">L</tspan><tspan dy="-3.69">(K)</tspan></text>
<text transform="translate(96.0,113.4) rotate(-90)" font-family='"Liberation Sans", sans-serif' font-size="12.2" text-anchor="middle">MR<tspan font-size="8.8" dy="0">(%)</tspan></text>
<line x1="142.1" y1="54.5" x2="167" y2="54.5" stroke="#111" stroke-width="1" />
<rect x="152.2" y="51.7" width="5.8" height="5.8" fill="#000"/>
<text transform="translate(170.6,58.63) scale(1.0,1)" font-size="11.2" text-anchor="start" font-family='"Liberation Sans", sans-serif' ><tspan font-size="8.3">Δ</tspan>T=20K</text>
<line x1="142.1" y1="68.5" x2="167" y2="68.5" stroke="#d42a2a" stroke-width="1" />
<circle cx="155.1" cy="68.1" r="3.3" fill="#ff0000"/>
<text transform="translate(170.6,72.13) scale(1.0,1)" font-size="11.2" text-anchor="start" font-family='"Liberation Sans", sans-serif' ><tspan font-size="8.3">Δ</tspan>T=40K</text>
<line x1="142.1" y1="82.5" x2="167" y2="82.5" stroke="#2a2ac8" stroke-width="1" />
<polygon points="155.1,78.35 158.83,84.82 151.37,84.82" fill="#0000ff"/>
<text transform="translate(170.6,86.13) scale(1.0,1)" font-size="11.2" text-anchor="start" font-family='"Liberation Sans", sans-serif' ><tspan font-size="8.3">Δ</tspan>T=60K</text>
<g clip-path="url(#cB)">
<polyline points="68.33,298.9 74.06,299.59 79.79,300.29 85.52,301.46 91.24,302.09 96.97,302.85 102.7,302.99 108.43,302.99 114.16,302.57 119.89,301.4 125.62,288.93 131.35,424.77 137.08,333.26 142.8,325.02 148.53,322.87 154.26,322.28 159.99,321.66 165.72,321.01 171.45,320.34 177.18,319.64 182.91,318.91 188.64,318.16 194.36,317.37 200.09,316.56 205.82,315.73 211.55,314.86 217.28,313.97 223.01,313.05 228.74,312.11 234.47,311.13 240.2,310.13 245.92,309.1 251.65,308.05 257.38,306.97 263.11,305.86 268.84,304.72 274.57,303.55 280.3,302.36 286.03,301.14 291.76,299.9 297.48,298.62 303.21,297.32 308.94,295.99 314.67,294.64 320.4,293.26" fill="none" stroke="#000" stroke-width="1" stroke-linejoin="round" />
<rect x="65.73" y="296.3" width="5.2" height="5.2" fill="#000"/>
<rect x="71.46" y="296.99" width="5.2" height="5.2" fill="#000"/>
<rect x="77.19" y="297.69" width="5.2" height="5.2" fill="#000"/>
<rect x="82.92" y="298.86" width="5.2" height="5.2" fill="#000"/>
<rect x="88.64" y="299.49" width="5.2" height="5.2" fill="#000"/>
<rect x="94.37" y="300.25" width="5.2" height="5.2" fill="#000"/>
<rect x="100.1" y="300.39" width="5.2" height="5.2" fill="#000"/>
<rect x="105.83" y="300.39" width="5.2" height="5.2" fill="#000"/>
<rect x="111.56" y="299.97" width="5.2" height="5.2" fill="#000"/>
<rect x="117.29" y="298.8" width="5.2" height="5.2" fill="#000"/>
<rect x="123.02" y="286.33" width="5.2" height="5.2" fill="#000"/>
<rect x="128.75" y="422.17" width="5.2" height="5.2" fill="#000"/>
<rect x="134.48" y="330.66" width="5.2" height="5.2" fill="#000"/>
<rect x="140.2" y="322.42" width="5.2" height="5.2" fill="#000"/>
<rect x="145.93" y="320.27" width="5.2" height="5.2" fill="#000"/>
<rect x="151.66" y="319.68" width="5.2" height="5.2" fill="#000"/>
<rect x="157.39" y="319.06" width="5.2" height="5.2" fill="#000"/>
<rect x="163.12" y="318.41" width="5.2" height="5.2" fill="#000"/>
<rect x="168.85" y="317.74" width="5.2" height="5.2" fill="#000"/>
<rect x="174.58" y="317.04" width="5.2" height="5.2" fill="#000"/>
<rect x="180.31" y="316.31" width="5.2" height="5.2" fill="#000"/>
<rect x="186.04" y="315.56" width="5.2" height="5.2" fill="#000"/>
<rect x="191.76" y="314.77" width="5.2" height="5.2" fill="#000"/>
<rect x="197.49" y="313.96" width="5.2" height="5.2" fill="#000"/>
<rect x="203.22" y="313.13" width="5.2" height="5.2" fill="#000"/>
<rect x="208.95" y="312.26" width="5.2" height="5.2" fill="#000"/>
<rect x="214.68" y="311.37" width="5.2" height="5.2" fill="#000"/>
<rect x="220.41" y="310.45" width="5.2" height="5.2" fill="#000"/>
<rect x="226.14" y="309.51" width="5.2" height="5.2" fill="#000"/>
<rect x="231.87" y="308.53" width="5.2" height="5.2" fill="#000"/>
<rect x="237.6" y="307.53" width="5.2" height="5.2" fill="#000"/>
<rect x="243.32" y="306.5" width="5.2" height="5.2" fill="#000"/>
<rect x="249.05" y="305.45" width="5.2" height="5.2" fill="#000"/>
<rect x="254.78" y="304.37" width="5.2" height="5.2" fill="#000"/>
<rect x="260.51" y="303.26" width="5.2" height="5.2" fill="#000"/>
<rect x="266.24" y="302.12" width="5.2" height="5.2" fill="#000"/>
<rect x="271.97" y="300.95" width="5.2" height="5.2" fill="#000"/>
<rect x="277.7" y="299.76" width="5.2" height="5.2" fill="#000"/>
<rect x="283.43" y="298.54" width="5.2" height="5.2" fill="#000"/>
<rect x="289.16" y="297.3" width="5.2" height="5.2" fill="#000"/>
<rect x="294.88" y="296.02" width="5.2" height="5.2" fill="#000"/>
<rect x="300.61" y="294.72" width="5.2" height="5.2" fill="#000"/>
<rect x="306.34" y="293.39" width="5.2" height="5.2" fill="#000"/>
<rect x="312.07" y="292.04" width="5.2" height="5.2" fill="#000"/>
<rect x="317.8" y="290.66" width="5.2" height="5.2" fill="#000"/>
</g>
<g clip-path="url(#cB)">
<polyline points="68.33,299.46 74.06,300.15 79.79,300.84 85.52,302.02 91.24,302.64 96.97,303.4 102.7,303.54 108.43,303.54 114.16,303.13 119.89,301.95 125.62,294.81 131.35,249.99 137.08,348.02 142.8,328.83 148.53,324.05 154.26,323.46 159.99,322.84 165.72,322.19 171.45,321.52 177.18,320.82 182.91,320.09 188.64,319.33 194.36,318.55 200.09,317.74 205.82,316.91 211.55,316.04 217.28,315.15 223.01,314.23 228.74,313.28 234.47,312.31 240.2,311.31 245.92,310.28 251.65,309.23 257.38,308.14 263.11,307.03 268.84,305.9 274.57,304.73 280.3,303.54 286.03,302.32 291.76,301.07 297.48,299.8 303.21,298.5 308.94,297.17 314.67,295.82 320.4,294.43" fill="none" stroke="#ff0000" stroke-width="1" stroke-linejoin="round" />
<circle cx="68.33" cy="299.46" r="2.8" fill="#ff0000"/>
<circle cx="74.06" cy="300.15" r="2.8" fill="#ff0000"/>
<circle cx="79.79" cy="300.84" r="2.8" fill="#ff0000"/>
<circle cx="85.52" cy="302.02" r="2.8" fill="#ff0000"/>
<circle cx="91.24" cy="302.64" r="2.8" fill="#ff0000"/>
<circle cx="96.97" cy="303.4" r="2.8" fill="#ff0000"/>
<circle cx="102.7" cy="303.54" r="2.8" fill="#ff0000"/>
<circle cx="108.43" cy="303.54" r="2.8" fill="#ff0000"/>
<circle cx="114.16" cy="303.13" r="2.8" fill="#ff0000"/>
<circle cx="119.89" cy="301.95" r="2.8" fill="#ff0000"/>
<circle cx="125.62" cy="294.81" r="2.8" fill="#ff0000"/>
<circle cx="131.35" cy="249.99" r="2.8" fill="#ff0000"/>
<circle cx="137.08" cy="348.02" r="2.8" fill="#ff0000"/>
<circle cx="142.8" cy="328.83" r="2.8" fill="#ff0000"/>
<circle cx="148.53" cy="324.05" r="2.8" fill="#ff0000"/>
<circle cx="154.26" cy="323.46" r="2.8" fill="#ff0000"/>
<circle cx="159.99" cy="322.84" r="2.8" fill="#ff0000"/>
<circle cx="165.72" cy="322.19" r="2.8" fill="#ff0000"/>
<circle cx="171.45" cy="321.52" r="2.8" fill="#ff0000"/>
<circle cx="177.18" cy="320.82" r="2.8" fill="#ff0000"/>
<circle cx="182.91" cy="320.09" r="2.8" fill="#ff0000"/>
<circle cx="188.64" cy="319.33" r="2.8" fill="#ff0000"/>
<circle cx="194.36" cy="318.55" r="2.8" fill="#ff0000"/>
<circle cx="200.09" cy="317.74" r="2.8" fill="#ff0000"/>
<circle cx="205.82" cy="316.91" r="2.8" fill="#ff0000"/>
<circle cx="211.55" cy="316.04" r="2.8" fill="#ff0000"/>
<circle cx="217.28" cy="315.15" r="2.8" fill="#ff0000"/>
<circle cx="223.01" cy="314.23" r="2.8" fill="#ff0000"/>
<circle cx="228.74" cy="313.28" r="2.8" fill="#ff0000"/>
<circle cx="234.47" cy="312.31" r="2.8" fill="#ff0000"/>
<circle cx="240.2" cy="311.31" r="2.8" fill="#ff0000"/>
<circle cx="245.92" cy="310.28" r="2.8" fill="#ff0000"/>
<circle cx="251.65" cy="309.23" r="2.8" fill="#ff0000"/>
<circle cx="257.38" cy="308.14" r="2.8" fill="#ff0000"/>
<circle cx="263.11" cy="307.03" r="2.8" fill="#ff0000"/>
<circle cx="268.84" cy="305.9" r="2.8" fill="#ff0000"/>
<circle cx="274.57" cy="304.73" r="2.8" fill="#ff0000"/>
<circle cx="280.3" cy="303.54" r="2.8" fill="#ff0000"/>
<circle cx="286.03" cy="302.32" r="2.8" fill="#ff0000"/>
<circle cx="291.76" cy="301.07" r="2.8" fill="#ff0000"/>
<circle cx="297.48" cy="299.8" r="2.8" fill="#ff0000"/>
<circle cx="303.21" cy="298.5" r="2.8" fill="#ff0000"/>
<circle cx="308.94" cy="297.17" r="2.8" fill="#ff0000"/>
<circle cx="314.67" cy="295.82" r="2.8" fill="#ff0000"/>
<circle cx="320.4" cy="294.43" r="2.8" fill="#ff0000"/>
</g>
<g clip-path="url(#cB)">
<polyline points="68.33,299.87 74.06,300.56 79.79,301.26 85.52,302.43 91.24,303.06 96.97,303.82 102.7,303.96 108.43,303.96 114.16,303.54 119.89,302.37 125.62,297.52 131.35,276.87 137.08,374.34 142.8,332.29 148.53,323.91 154.26,323.32 159.99,322.7 165.72,322.05 171.45,321.38 177.18,320.68 182.91,319.95 188.64,319.2 194.36,318.41 200.09,317.6 205.82,316.77 211.55,315.9 217.28,315.01 223.01,314.09 228.74,313.15 234.47,312.17 240.2,311.17 245.92,310.14 251.65,309.09 257.38,308.01 263.11,306.9 268.84,305.76 274.57,304.59 280.3,303.4 286.03,302.18 291.76,300.94 297.48,299.66 303.21,298.36 308.94,297.03 314.67,295.68 320.4,294.29" fill="none" stroke="#0000ff" stroke-width="1" stroke-linejoin="round" />
<polygon points="68.33,296.46 71.72,302.34 64.94,302.34" fill="#0000ff"/>
<polygon points="74.06,297.15 77.45,303.03 70.67,303.03" fill="#0000ff"/>
<polygon points="79.79,297.85 83.18,303.73 76.4,303.73" fill="#0000ff"/>
<polygon points="85.52,299.02 88.91,304.9 82.13,304.9" fill="#0000ff"/>
<polygon points="91.24,299.65 94.63,305.53 87.85,305.53" fill="#0000ff"/>
<polygon points="96.97,300.41 100.36,306.29 93.58,306.29" fill="#0000ff"/>
<polygon points="102.7,300.55 106.09,306.43 99.31,306.43" fill="#0000ff"/>
<polygon points="108.43,300.55 111.82,306.43 105.04,306.43" fill="#0000ff"/>
<polygon points="114.16,300.13 117.55,306.01 110.77,306.01" fill="#0000ff"/>
<polygon points="119.89,298.95 123.28,304.83 116.5,304.83" fill="#0000ff"/>
<polygon points="125.62,294.11 129.01,299.99 122.23,299.99" fill="#0000ff"/>
<polygon points="131.35,273.46 134.74,279.34 127.96,279.34" fill="#0000ff"/>
<polygon points="137.08,370.93 140.47,376.81 133.69,376.81" fill="#0000ff"/>
<polygon points="142.8,328.88 146.19,334.76 139.41,334.76" fill="#0000ff"/>
<polygon points="148.53,320.5 151.92,326.38 145.14,326.38" fill="#0000ff"/>
<polygon points="154.26,319.91 157.65,325.79 150.87,325.79" fill="#0000ff"/>
<polygon points="159.99,319.29 163.38,325.17 156.6,325.17" fill="#0000ff"/>
<polygon points="165.72,318.64 169.11,324.52 162.33,324.52" fill="#0000ff"/>
<polygon points="171.45,317.97 174.84,323.85 168.06,323.85" fill="#0000ff"/>
<polygon points="177.18,317.27 180.57,323.15 173.79,323.15" fill="#0000ff"/>
<polygon points="182.91,316.54 186.3,322.42 179.52,322.42" fill="#0000ff"/>
<polygon points="188.64,315.79 192.03,321.67 185.25,321.67" fill="#0000ff"/>
<polygon points="194.36,315 197.75,320.88 190.97,320.88" fill="#0000ff"/>
<polygon points="200.09,314.19 203.48,320.07 196.7,320.07" fill="#0000ff"/>
<polygon points="205.82,313.36 209.21,319.24 202.43,319.24" fill="#0000ff"/>
<polygon points="211.55,312.49 214.94,318.37 208.16,318.37" fill="#0000ff"/>
<polygon points="217.28,311.6 220.67,317.48 213.89,317.48" fill="#0000ff"/>
<polygon points="223.01,310.68 226.4,316.56 219.62,316.56" fill="#0000ff"/>
<polygon points="228.74,309.74 232.13,315.62 225.35,315.62" fill="#0000ff"/>
<polygon points="234.47,308.76 237.86,314.64 231.08,314.64" fill="#0000ff"/>
<polygon points="240.2,307.76 243.59,313.64 236.81,313.64" fill="#0000ff"/>
<polygon points="245.92,306.73 249.31,312.61 242.53,312.61" fill="#0000ff"/>
<polygon points="251.65,305.68 255.04,311.56 248.26,311.56" fill="#0000ff"/>
<polygon points="257.38,304.6 260.77,310.48 253.99,310.48" fill="#0000ff"/>
<polygon points="263.11,303.49 266.5,309.37 259.72,309.37" fill="#0000ff"/>
<polygon points="268.84,302.35 272.23,308.23 265.45,308.23" fill="#0000ff"/>
<polygon points="274.57,301.18 277.96,307.06 271.18,307.06" fill="#0000ff"/>
<polygon points="280.3,299.99 283.69,305.87 276.91,305.87" fill="#0000ff"/>
<polygon points="286.03,298.77 289.42,304.65 282.64,304.65" fill="#0000ff"/>
<polygon points="291.76,297.53 295.15,303.41 288.37,303.41" fill="#0000ff"/>
<polygon points="297.48,296.25 300.87,302.13 294.09,302.13" fill="#0000ff"/>
<polygon points="303.21,294.95 306.6,300.83 299.82,300.83" fill="#0000ff"/>
<polygon points="308.94,293.62 312.33,299.5 305.55,299.5" fill="#0000ff"/>
<polygon points="314.67,292.27 318.06,298.15 311.28,298.15" fill="#0000ff"/>
<polygon points="320.4,290.88 323.79,296.76 317.01,296.76" fill="#0000ff"/>
</g>
<rect x="62.5" y="245.5" width="258" height="191" fill="none" stroke="#111" stroke-width="1.3"/>
<line x1="62.5" y1="245.5" x2="66.5" y2="245.5" stroke="#111" stroke-width="1" />
<line x1="62.5" y1="280.5" x2="66.5" y2="280.5" stroke="#111" stroke-width="1" />
<line x1="62.5" y1="314.5" x2="66.5" y2="314.5" stroke="#111" stroke-width="1" />
<line x1="62.5" y1="349.5" x2="66.5" y2="349.5" stroke="#111" stroke-width="1" />
<line x1="62.5" y1="384.5" x2="66.5" y2="384.5" stroke="#111" stroke-width="1" />
<line x1="62.5" y1="418.5" x2="66.5" y2="418.5" stroke="#111" stroke-width="1" />
<line x1="62.5" y1="263.5" x2="64.7" y2="263.5" stroke="#111" stroke-width="1" />
<line x1="62.5" y1="297.5" x2="64.7" y2="297.5" stroke="#111" stroke-width="1" />
<line x1="62.5" y1="332.5" x2="64.7" y2="332.5" stroke="#111" stroke-width="1" />
<line x1="62.5" y1="366.5" x2="64.7" y2="366.5" stroke="#111" stroke-width="1" />
<line x1="62.5" y1="401.5" x2="64.7" y2="401.5" stroke="#111" stroke-width="1" />
<line x1="62.5" y1="436.5" x2="64.7" y2="436.5" stroke="#111" stroke-width="1" />
<line x1="91.5" y1="436.5" x2="91.5" y2="432.5" stroke="#111" stroke-width="1" />
<line x1="148.5" y1="436.5" x2="148.5" y2="432.5" stroke="#111" stroke-width="1" />
<line x1="205.5" y1="436.5" x2="205.5" y2="432.5" stroke="#111" stroke-width="1" />
<line x1="263.5" y1="436.5" x2="263.5" y2="432.5" stroke="#111" stroke-width="1" />
<line x1="320.5" y1="436.5" x2="320.5" y2="432.5" stroke="#111" stroke-width="1" />
<line x1="119.5" y1="436.5" x2="119.5" y2="434.3" stroke="#111" stroke-width="1" />
<line x1="177.5" y1="436.5" x2="177.5" y2="434.3" stroke="#111" stroke-width="1" />
<line x1="234.5" y1="436.5" x2="234.5" y2="434.3" stroke="#111" stroke-width="1" />
<line x1="291.5" y1="436.5" x2="291.5" y2="434.3" stroke="#111" stroke-width="1" />
<text transform="translate(58.5,249.48) scale(1.05,1)" font-size="10.5" text-anchor="end" font-family='"Liberation Sans", sans-serif' >0</text>
<text transform="translate(58.5,284.12) scale(1.05,1)" font-size="10.5" text-anchor="end" font-family='"Liberation Sans", sans-serif' >-50</text>
<text transform="translate(58.5,318.75) scale(1.05,1)" font-size="10.5" text-anchor="end" font-family='"Liberation Sans", sans-serif' >-100</text>
<text transform="translate(58.5,353.39) scale(1.05,1)" font-size="10.5" text-anchor="end" font-family='"Liberation Sans", sans-serif' >-150</text>
<text transform="translate(58.5,388.03) scale(1.05,1)" font-size="10.5" text-anchor="end" font-family='"Liberation Sans", sans-serif' >-200</text>
<text transform="translate(58.5,422.66) scale(1.05,1)" font-size="10.5" text-anchor="end" font-family='"Liberation Sans", sans-serif' >-250</text>
<text transform="translate(91.24,449.3) scale(1.05,1)" font-size="10.5" text-anchor="middle" font-family='"Liberation Sans", sans-serif' >100</text>
<text transform="translate(148.53,449.3) scale(1.05,1)" font-size="10.5" text-anchor="middle" font-family='"Liberation Sans", sans-serif' >200</text>
<text transform="translate(205.82,449.3) scale(1.05,1)" font-size="10.5" text-anchor="middle" font-family='"Liberation Sans", sans-serif' >300</text>
<text transform="translate(263.11,449.3) scale(1.05,1)" font-size="10.5" text-anchor="middle" font-family='"Liberation Sans", sans-serif' >400</text>
<text transform="translate(320.4,449.3) scale(1.05,1)" font-size="10.5" text-anchor="middle" font-family='"Liberation Sans", sans-serif' >500</text>
<text transform="translate(191.5,470.5) scale(1.0,1)" font-size="14.5" text-anchor="middle" font-family='"Liberation Sans", sans-serif' >T<tspan dy="5.51" font-size="9.86">L</tspan><tspan dy="-5.51">(K)</tspan></text>
<text transform="translate(26.8,351.3) rotate(-90) scale(1,1.0)" font-size="14.5" text-anchor="middle" font-family='"Liberation Sans", sans-serif' >MR(%)</text>
<text transform="translate(-0.5,263.2) scale(1.0,1)" font-size="23" text-anchor="start" font-family='"Liberation Serif", serif' >(b)</text>
<line x1="238.3" y1="391.5" x2="262.7" y2="391.5" stroke="#111" stroke-width="1" />
<rect x="247.6" y="388.5" width="5.8" height="5.8" fill="#000"/>
<text transform="translate(266,395.43) scale(1.0,1)" font-size="11.2" text-anchor="start" font-family='"Liberation Sans", sans-serif' ><tspan font-size="8.3">Δ</tspan>T=20K</text>
<line x1="238.3" y1="405.5" x2="262.7" y2="405.5" stroke="#d42a2a" stroke-width="1" />
<circle cx="250.5" cy="405.6" r="3.3" fill="#ff0000"/>
<text transform="translate(266,409.63) scale(1.0,1)" font-size="11.2" text-anchor="start" font-family='"Liberation Sans", sans-serif' ><tspan font-size="8.3">Δ</tspan>T=40K</text>
<line x1="238.3" y1="419.5" x2="262.7" y2="419.5" stroke="#2a2ac8" stroke-width="1" />
<polygon points="250.5,415.35 254.23,421.82 246.77,421.82" fill="#0000ff"/>
<text transform="translate(266,423.13) scale(1.0,1)" font-size="11.2" text-anchor="start" font-family='"Liberation Sans", sans-serif' ><tspan font-size="8.3">Δ</tspan>T=60K</text>
<g clip-path="url(#cC)">
<polyline points="70.32,592.92 76.04,530.63 81.77,516.46 87.49,511.24 93.21,509 98.93,507.88 104.66,507.14 110.38,506.54 116.1,506.39 121.82,506.39 127.54,507.14 133.27,495.95 138.99,503.04 144.71,505.27 150.43,505.65 156.16,505.65 161.88,505.65 167.6,505.65 173.32,505.65 179.04,505.65 184.77,505.65 190.49,505.65 196.21,505.65 201.93,505.65 207.66,505.65 213.38,505.65 219.1,505.65 224.82,505.65 230.54,505.65 236.27,505.65 241.99,505.65 247.71,505.65 253.43,505.65 259.16,505.65 264.88,505.65 270.6,505.65 276.32,505.65 282.04,505.65 287.77,505.65 293.49,505.65 299.21,505.65 304.93,505.65 310.66,505.65 316.38,505.65 322.1,505.65" fill="none" stroke="#000" stroke-width="1" stroke-linejoin="round" />
<rect x="67.72" y="590.32" width="5.2" height="5.2" fill="#000"/>
<rect x="73.44" y="528.03" width="5.2" height="5.2" fill="#000"/>
<rect x="79.17" y="513.86" width="5.2" height="5.2" fill="#000"/>
<rect x="84.89" y="508.64" width="5.2" height="5.2" fill="#000"/>
<rect x="90.61" y="506.4" width="5.2" height="5.2" fill="#000"/>
<rect x="96.33" y="505.28" width="5.2" height="5.2" fill="#000"/>
<rect x="102.06" y="504.54" width="5.2" height="5.2" fill="#000"/>
<rect x="107.78" y="503.94" width="5.2" height="5.2" fill="#000"/>
<rect x="113.5" y="503.79" width="5.2" height="5.2" fill="#000"/>
<rect x="119.22" y="503.79" width="5.2" height="5.2" fill="#000"/>
<rect x="124.94" y="504.54" width="5.2" height="5.2" fill="#000"/>
<rect x="130.67" y="493.35" width="5.2" height="5.2" fill="#000"/>
<rect x="136.39" y="500.44" width="5.2" height="5.2" fill="#000"/>
<rect x="142.11" y="502.67" width="5.2" height="5.2" fill="#000"/>
<rect x="147.83" y="503.05" width="5.2" height="5.2" fill="#000"/>
<rect x="153.56" y="503.05" width="5.2" height="5.2" fill="#000"/>
<rect x="159.28" y="503.05" width="5.2" height="5.2" fill="#000"/>
<rect x="165" y="503.05" width="5.2" height="5.2" fill="#000"/>
<rect x="170.72" y="503.05" width="5.2" height="5.2" fill="#000"/>
<rect x="176.44" y="503.05" width="5.2" height="5.2" fill="#000"/>
<rect x="182.17" y="503.05" width="5.2" height="5.2" fill="#000"/>
<rect x="187.89" y="503.05" width="5.2" height="5.2" fill="#000"/>
<rect x="193.61" y="503.05" width="5.2" height="5.2" fill="#000"/>
<rect x="199.33" y="503.05" width="5.2" height="5.2" fill="#000"/>
<rect x="205.06" y="503.05" width="5.2" height="5.2" fill="#000"/>
<rect x="210.78" y="503.05" width="5.2" height="5.2" fill="#000"/>
<rect x="216.5" y="503.05" width="5.2" height="5.2" fill="#000"/>
<rect x="222.22" y="503.05" width="5.2" height="5.2" fill="#000"/>
<rect x="227.94" y="503.05" width="5.2" height="5.2" fill="#000"/>
<rect x="233.67" y="503.05" width="5.2" height="5.2" fill="#000"/>
<rect x="239.39" y="503.05" width="5.2" height="5.2" fill="#000"/>
<rect x="245.11" y="503.05" width="5.2" height="5.2" fill="#000"/>
<rect x="250.83" y="503.05" width="5.2" height="5.2" fill="#000"/>
<rect x="256.56" y="503.05" width="5.2" height="5.2" fill="#000"/>
<rect x="262.28" y="503.05" width="5.2" height="5.2" fill="#000"/>
<rect x="268" y="503.05" width="5.2" height="5.2" fill="#000"/>
<rect x="273.72" y="503.05" width="5.2" height="5.2" fill="#000"/>
<rect x="279.44" y="503.05" width="5.2" height="5.2" fill="#000"/>
<rect x="285.17" y="503.05" width="5.2" height="5.2" fill="#000"/>
<rect x="290.89" y="503.05" width="5.2" height="5.2" fill="#000"/>
<rect x="296.61" y="503.05" width="5.2" height="5.2" fill="#000"/>
<rect x="302.33" y="503.05" width="5.2" height="5.2" fill="#000"/>
<rect x="308.06" y="503.05" width="5.2" height="5.2" fill="#000"/>
<rect x="313.78" y="503.05" width="5.2" height="5.2" fill="#000"/>
<rect x="319.5" y="503.05" width="5.2" height="5.2" fill="#000"/>
</g>
<g clip-path="url(#cC)">
<polyline points="70.32,640.65 76.04,543.69 81.77,520.56 87.49,513.11 93.21,509.75 98.93,508.26 104.66,507.29 110.38,506.77 116.1,506.54 121.82,506.54 127.54,508.63 133.27,513.26 138.99,504.68 144.71,505.65 150.43,505.8 156.16,505.8 161.88,505.8 167.6,505.8 173.32,505.8 179.04,505.8 184.77,505.8 190.49,505.8 196.21,505.8 201.93,505.8 207.66,505.8 213.38,505.8 219.1,505.8 224.82,505.8 230.54,505.8 236.27,505.8 241.99,505.8 247.71,505.8 253.43,505.8 259.16,505.8 264.88,505.8 270.6,505.8 276.32,505.8 282.04,505.8 287.77,505.8 293.49,505.8 299.21,505.8 304.93,505.8 310.66,505.8 316.38,505.8 322.1,505.8" fill="none" stroke="#ff0000" stroke-width="1" stroke-linejoin="round" />
<circle cx="70.32" cy="640.65" r="2.8" fill="#ff0000"/>
<circle cx="76.04" cy="543.69" r="2.8" fill="#ff0000"/>
<circle cx="81.77" cy="520.56" r="2.8" fill="#ff0000"/>
<circle cx="87.49" cy="513.11" r="2.8" fill="#ff0000"/>
<circle cx="93.21" cy="509.75" r="2.8" fill="#ff0000"/>
<circle cx="98.93" cy="508.26" r="2.8" fill="#ff0000"/>
<circle cx="104.66" cy="507.29" r="2.8" fill="#ff0000"/>
<circle cx="110.38" cy="506.77" r="2.8" fill="#ff0000"/>
<circle cx="116.1" cy="506.54" r="2.8" fill="#ff0000"/>
<circle cx="121.82" cy="506.54" r="2.8" fill="#ff0000"/>
<circle cx="127.54" cy="508.63" r="2.8" fill="#ff0000"/>
<circle cx="133.27" cy="513.26" r="2.8" fill="#ff0000"/>
<circle cx="138.99" cy="504.68" r="2.8" fill="#ff0000"/>
<circle cx="144.71" cy="505.65" r="2.8" fill="#ff0000"/>
<circle cx="150.43" cy="505.8" r="2.8" fill="#ff0000"/>
<circle cx="156.16" cy="505.8" r="2.8" fill="#ff0000"/>
<circle cx="161.88" cy="505.8" r="2.8" fill="#ff0000"/>
<circle cx="167.6" cy="505.8" r="2.8" fill="#ff0000"/>
<circle cx="173.32" cy="505.8" r="2.8" fill="#ff0000"/>
<circle cx="179.04" cy="505.8" r="2.8" fill="#ff0000"/>
<circle cx="184.77" cy="505.8" r="2.8" fill="#ff0000"/>
<circle cx="190.49" cy="505.8" r="2.8" fill="#ff0000"/>
<circle cx="196.21" cy="505.8" r="2.8" fill="#ff0000"/>
<circle cx="201.93" cy="505.8" r="2.8" fill="#ff0000"/>
<circle cx="207.66" cy="505.8" r="2.8" fill="#ff0000"/>
<circle cx="213.38" cy="505.8" r="2.8" fill="#ff0000"/>
<circle cx="219.1" cy="505.8" r="2.8" fill="#ff0000"/>
<circle cx="224.82" cy="505.8" r="2.8" fill="#ff0000"/>
<circle cx="230.54" cy="505.8" r="2.8" fill="#ff0000"/>
<circle cx="236.27" cy="505.8" r="2.8" fill="#ff0000"/>
<circle cx="241.99" cy="505.8" r="2.8" fill="#ff0000"/>
<circle cx="247.71" cy="505.8" r="2.8" fill="#ff0000"/>
<circle cx="253.43" cy="505.8" r="2.8" fill="#ff0000"/>
<circle cx="259.16" cy="505.8" r="2.8" fill="#ff0000"/>
<circle cx="264.88" cy="505.8" r="2.8" fill="#ff0000"/>
<circle cx="270.6" cy="505.8" r="2.8" fill="#ff0000"/>
<circle cx="276.32" cy="505.8" r="2.8" fill="#ff0000"/>
<circle cx="282.04" cy="505.8" r="2.8" fill="#ff0000"/>
<circle cx="287.77" cy="505.8" r="2.8" fill="#ff0000"/>
<circle cx="293.49" cy="505.8" r="2.8" fill="#ff0000"/>
<circle cx="299.21" cy="505.8" r="2.8" fill="#ff0000"/>
<circle cx="304.93" cy="505.8" r="2.8" fill="#ff0000"/>
<circle cx="310.66" cy="505.8" r="2.8" fill="#ff0000"/>
<circle cx="316.38" cy="505.8" r="2.8" fill="#ff0000"/>
<circle cx="322.1" cy="505.8" r="2.8" fill="#ff0000"/>
</g>
<g clip-path="url(#cC)">
<polyline points="70.32,674.22 76.04,551.89 81.77,524.29 87.49,515.34 93.21,510.12 98.93,508.63 104.66,507.51 110.38,506.77 116.1,506.39 121.82,506.24 127.54,506.92 133.27,509.38 138.99,499.23 144.71,504.16 150.43,505.27 156.16,505.27 161.88,505.27 167.6,505.27 173.32,505.27 179.04,505.27 184.77,505.27 190.49,505.27 196.21,505.27 201.93,505.27 207.66,505.27 213.38,505.27 219.1,505.27 224.82,505.27 230.54,505.27 236.27,505.27 241.99,505.27 247.71,505.27 253.43,505.27 259.16,505.27 264.88,505.27 270.6,505.27 276.32,505.27 282.04,505.27 287.77,505.27 293.49,505.27 299.21,505.27 304.93,505.27 310.66,505.27 316.38,505.27 322.1,505.27" fill="none" stroke="#0000ff" stroke-width="1" stroke-linejoin="round" />
<polygon points="70.32,670.81 73.71,676.69 66.93,676.69" fill="#0000ff"/>
<polygon points="76.04,548.48 79.43,554.36 72.65,554.36" fill="#0000ff"/>
<polygon points="81.77,520.88 85.16,526.76 78.38,526.76" fill="#0000ff"/>
<polygon points="87.49,511.93 90.88,517.81 84.1,517.81" fill="#0000ff"/>
<polygon points="93.21,506.71 96.6,512.59 89.82,512.59" fill="#0000ff"/>
<polygon points="98.93,505.22 102.32,511.1 95.54,511.1" fill="#0000ff"/>
<polygon points="104.66,504.1 108.05,509.98 101.27,509.98" fill="#0000ff"/>
<polygon points="110.38,503.36 113.77,509.24 106.99,509.24" fill="#0000ff"/>
<polygon points="116.1,502.98 119.49,508.86 112.71,508.86" fill="#0000ff"/>
<polygon points="121.82,502.83 125.21,508.71 118.43,508.71" fill="#0000ff"/>
<polygon points="127.54,503.5 130.93,509.38 124.15,509.38" fill="#0000ff"/>
<polygon points="133.27,505.97 136.66,511.85 129.88,511.85" fill="#0000ff"/>
<polygon points="138.99,495.82 142.38,501.7 135.6,501.7" fill="#0000ff"/>
<polygon points="144.71,500.74 148.1,506.62 141.32,506.62" fill="#0000ff"/>
<polygon points="150.43,501.86 153.82,507.74 147.04,507.74" fill="#0000ff"/>
<polygon points="156.16,501.86 159.55,507.74 152.77,507.74" fill="#0000ff"/>
<polygon points="161.88,501.86 165.27,507.74 158.49,507.74" fill="#0000ff"/>
<polygon points="167.6,501.86 170.99,507.74 164.21,507.74" fill="#0000ff"/>
<polygon points="173.32,501.86 176.71,507.74 169.93,507.74" fill="#0000ff"/>
<polygon points="179.04,501.86 182.43,507.74 175.65,507.74" fill="#0000ff"/>
<polygon points="184.77,501.86 188.16,507.74 181.38,507.74" fill="#0000ff"/>
<polygon points="190.49,501.86 193.88,507.74 187.1,507.74" fill="#0000ff"/>
<polygon points="196.21,501.86 199.6,507.74 192.82,507.74" fill="#0000ff"/>
<polygon points="201.93,501.86 205.32,507.74 198.54,507.74" fill="#0000ff"/>
<polygon points="207.66,501.86 211.05,507.74 204.27,507.74" fill="#0000ff"/>
<polygon points="213.38,501.86 216.77,507.74 209.99,507.74" fill="#0000ff"/>
<polygon points="219.1,501.86 222.49,507.74 215.71,507.74" fill="#0000ff"/>
<polygon points="224.82,501.86 228.21,507.74 221.43,507.74" fill="#0000ff"/>
<polygon points="230.54,501.86 233.93,507.74 227.15,507.74" fill="#0000ff"/>
<polygon points="236.27,501.86 239.66,507.74 232.88,507.74" fill="#0000ff"/>
<polygon points="241.99,501.86 245.38,507.74 238.6,507.74" fill="#0000ff"/>
<polygon points="247.71,501.86 251.1,507.74 244.32,507.74" fill="#0000ff"/>
<polygon points="253.43,501.86 256.82,507.74 250.04,507.74" fill="#0000ff"/>
<polygon points="259.16,501.86 262.55,507.74 255.77,507.74" fill="#0000ff"/>
<polygon points="264.88,501.86 268.27,507.74 261.49,507.74" fill="#0000ff"/>
<polygon points="270.6,501.86 273.99,507.74 267.21,507.74" fill="#0000ff"/>
<polygon points="276.32,501.86 279.71,507.74 272.93,507.74" fill="#0000ff"/>
<polygon points="282.04,501.86 285.43,507.74 278.65,507.74" fill="#0000ff"/>
<polygon points="287.77,501.86 291.16,507.74 284.38,507.74" fill="#0000ff"/>
<polygon points="293.49,501.86 296.88,507.74 290.1,507.74" fill="#0000ff"/>
<polygon points="299.21,501.86 302.6,507.74 295.82,507.74" fill="#0000ff"/>
<polygon points="304.93,501.86 308.32,507.74 301.54,507.74" fill="#0000ff"/>
<polygon points="310.66,501.86 314.05,507.74 307.27,507.74" fill="#0000ff"/>
<polygon points="316.38,501.86 319.77,507.74 312.99,507.74" fill="#0000ff"/>
<polygon points="322.1,501.86 325.49,507.74 318.71,507.74" fill="#0000ff"/>
</g>
<rect x="64.5" y="487.5" width="258" height="190" fill="none" stroke="#111" stroke-width="1.3"/>
<line x1="64.5" y1="505.5" x2="68.5" y2="505.5" stroke="#111" stroke-width="1" />
<line x1="64.5" y1="542.5" x2="68.5" y2="542.5" stroke="#111" stroke-width="1" />
<line x1="64.5" y1="580.5" x2="68.5" y2="580.5" stroke="#111" stroke-width="1" />
<line x1="64.5" y1="617.5" x2="68.5" y2="617.5" stroke="#111" stroke-width="1" />
<line x1="64.5" y1="654.5" x2="68.5" y2="654.5" stroke="#111" stroke-width="1" />
<line x1="64.5" y1="524.5" x2="66.7" y2="524.5" stroke="#111" stroke-width="1" />
<line x1="64.5" y1="561.5" x2="66.7" y2="561.5" stroke="#111" stroke-width="1" />
<line x1="64.5" y1="598.5" x2="66.7" y2="598.5" stroke="#111" stroke-width="1" />
<line x1="64.5" y1="636.5" x2="66.7" y2="636.5" stroke="#111" stroke-width="1" />
<line x1="64.5" y1="673.5" x2="66.7" y2="673.5" stroke="#111" stroke-width="1" />
<line x1="93.5" y1="677.5" x2="93.5" y2="673.5" stroke="#111" stroke-width="1" />
<line x1="150.5" y1="677.5" x2="150.5" y2="673.5" stroke="#111" stroke-width="1" />
<line x1="207.5" y1="677.5" x2="207.5" y2="673.5" stroke="#111" stroke-width="1" />
<line x1="264.5" y1="677.5" x2="264.5" y2="673.5" stroke="#111" stroke-width="1" />
<line x1="322.5" y1="677.5" x2="322.5" y2="673.5" stroke="#111" stroke-width="1" />
<line x1="121.5" y1="677.5" x2="121.5" y2="675.3" stroke="#111" stroke-width="1" />
<line x1="179.5" y1="677.5" x2="179.5" y2="675.3" stroke="#111" stroke-width="1" />
<line x1="236.5" y1="677.5" x2="236.5" y2="675.3" stroke="#111" stroke-width="1" />
<line x1="293.5" y1="677.5" x2="293.5" y2="675.3" stroke="#111" stroke-width="1" />
<text transform="translate(60.5,490.58) scale(1.05,1)" font-size="10.5" text-anchor="end" font-family='"Liberation Sans", sans-serif' >2.5x10<tspan dx="-0.6" dy="-4.41" font-size="7.14">8</tspan></text>
<text transform="translate(60.5,509.43) scale(1.05,1)" font-size="10.5" text-anchor="end" font-family='"Liberation Sans", sans-serif' >0.0</text>
<text transform="translate(60.5,546.72) scale(1.05,1)" font-size="10.5" text-anchor="end" font-family='"Liberation Sans", sans-serif' >-5.0x10<tspan dx="-0.6" dy="-4.41" font-size="7.14">8</tspan></text>
<text transform="translate(60.5,584.02) scale(1.05,1)" font-size="10.5" text-anchor="end" font-family='"Liberation Sans", sans-serif' >-1.0x10<tspan dx="-0.6" dy="-4.41" font-size="7.14">9</tspan></text>
<text transform="translate(60.5,621.31) scale(1.05,1)" font-size="10.5" text-anchor="end" font-family='"Liberation Sans", sans-serif' >-1.5x10<tspan dx="-0.6" dy="-4.41" font-size="7.14">9</tspan></text>
<text transform="translate(60.5,658.6) scale(1.05,1)" font-size="10.5" text-anchor="end" font-family='"Liberation Sans", sans-serif' >-2.0x10<tspan dx="-0.6" dy="-4.41" font-size="7.14">9</tspan></text>
<text transform="translate(60.5,680.18) scale(1.05,1)" font-size="10.5" text-anchor="end" font-family='"Liberation Sans", sans-serif' >-2.3x10<tspan dx="-0.6" dy="-4.41" font-size="7.14">9</tspan></text>
<text transform="translate(93.21,690.3) scale(1.05,1)" font-size="10.5" text-anchor="middle" font-family='"Liberation Sans", sans-serif' >100</text>
<text transform="translate(150.43,690.3) scale(1.05,1)" font-size="10.5" text-anchor="middle" font-family='"Liberation Sans", sans-serif' >200</text>
<text transform="translate(207.66,690.3) scale(1.05,1)" font-size="10.5" text-anchor="middle" font-family='"Liberation Sans", sans-serif' >300</text>
<text transform="translate(264.88,690.3) scale(1.05,1)" font-size="10.5" text-anchor="middle" font-family='"Liberation Sans", sans-serif' >400</text>
<text transform="translate(322.1,690.3) scale(1.05,1)" font-size="10.5" text-anchor="middle" font-family='"Liberation Sans", sans-serif' >500</text>
<text transform="translate(193.35,707) scale(1.0,1)" font-size="14.5" text-anchor="middle" font-family='"Liberation Sans", sans-serif' >T<tspan dy="5.51" font-size="9.86">L</tspan><tspan dy="-5.51">(K)</tspan></text>
<text transform="translate(14,592.4) rotate(-90) scale(1,1.0)" font-size="14.5" text-anchor="middle" font-family='"Liberation Sans", sans-serif' >MR(%)</text>
<text transform="translate(-1,505.5) scale(1.0,1)" font-size="23" text-anchor="start" font-family='"Liberation Serif", serif' >(c)</text>
<rect x="155.7" y="529.4" width="151.1" height="116.2" fill="#fff"/>
<line x1="155.7" y1="592.78" x2="306.8" y2="592.78" stroke="#999" stroke-width="0.8" stroke-dasharray="1.2,1.2"/>
<clipPath id="cCi2"><rect x="155.7" y="525" width="151.1" height="120.6"/></clipPath><g clip-path="url(#cCi2)">
<path d="M155.7,592.78 C156.75,592.78 159.9,592.75 162,592.78 C164.09,592.82 166.19,592.91 168.29,592.99 C170.39,593.08 172.49,593.17 174.59,593.31 C176.69,593.45 178.78,593.7 180.88,593.84 C182.98,593.98 185.08,593.98 187.18,594.16 C189.28,594.33 191.38,594.6 193.47,594.89 C195.57,595.19 197.67,595.6 199.77,595.95 C201.87,596.3 203.97,596.66 206.07,597.01 C208.17,597.36 210.26,597.66 212.36,598.06 C214.46,598.47 216.56,598.89 218.66,599.44 C220.76,599.98 222.86,600.77 224.95,601.34 C227.05,601.9 229.15,602.24 231.25,602.82 C233.35,603.4 235.45,604.14 237.55,604.82 C239.64,605.51 241.74,606.23 243.84,606.94 C245.94,607.64 248.04,608.4 250.14,609.05 C252.24,609.7 254.33,610.25 256.43,610.85 C258.53,611.44 260.63,612.2 262.73,612.64 C264.83,613.08 266.93,613.64 269.02,613.49 C271.12,613.33 273.22,612.5 275.32,611.69 C277.42,610.88 279.52,610.46 281.62,608.63 C283.72,606.8 285.81,604.37 287.91,600.7 C290.01,597.04 292.11,592.62 294.21,586.65 C296.31,580.69 298.41,574.3 300.5,564.89 C302.6,555.49 305.75,536.02 306.8,530.25" fill="none" stroke="#000" stroke-width="0.9"/>
<rect x="154" y="591.08" width="3.4" height="3.4" fill="#000"/>
<rect x="160.3" y="591.08" width="3.4" height="3.4" fill="#000"/>
<rect x="166.59" y="591.29" width="3.4" height="3.4" fill="#000"/>
<rect x="172.89" y="591.61" width="3.4" height="3.4" fill="#000"/>
<rect x="179.18" y="592.14" width="3.4" height="3.4" fill="#000"/>
<rect x="185.48" y="592.46" width="3.4" height="3.4" fill="#000"/>
<rect x="191.78" y="593.19" width="3.4" height="3.4" fill="#000"/>
<rect x="198.07" y="594.25" width="3.4" height="3.4" fill="#000"/>
<rect x="204.37" y="595.31" width="3.4" height="3.4" fill="#000"/>
<rect x="210.66" y="596.36" width="3.4" height="3.4" fill="#000"/>
<rect x="216.96" y="597.74" width="3.4" height="3.4" fill="#000"/>
<rect x="223.25" y="599.64" width="3.4" height="3.4" fill="#000"/>
<rect x="229.55" y="601.12" width="3.4" height="3.4" fill="#000"/>
<rect x="235.85" y="603.12" width="3.4" height="3.4" fill="#000"/>
<rect x="242.14" y="605.24" width="3.4" height="3.4" fill="#000"/>
<rect x="248.44" y="607.35" width="3.4" height="3.4" fill="#000"/>
<rect x="254.73" y="609.15" width="3.4" height="3.4" fill="#000"/>
<rect x="261.03" y="610.94" width="3.4" height="3.4" fill="#000"/>
<rect x="267.32" y="611.79" width="3.4" height="3.4" fill="#000"/>
<rect x="273.62" y="609.99" width="3.4" height="3.4" fill="#000"/>
<rect x="279.92" y="606.93" width="3.4" height="3.4" fill="#000"/>
<rect x="286.21" y="599" width="3.4" height="3.4" fill="#000"/>
<rect x="292.51" y="584.95" width="3.4" height="3.4" fill="#000"/>
<rect x="298.8" y="563.19" width="3.4" height="3.4" fill="#000"/>
<rect x="305.1" y="528.55" width="3.4" height="3.4" fill="#000"/>
<path d="M155.7,592.78 C156.75,592.78 159.9,592.75 162,592.78 C164.09,592.82 166.19,592.91 168.29,592.99 C170.39,593.08 172.49,593.17 174.59,593.31 C176.69,593.45 178.78,593.7 180.88,593.84 C182.98,593.98 185.08,593.98 187.18,594.16 C189.28,594.33 191.38,594.6 193.47,594.89 C195.57,595.19 197.67,595.6 199.77,595.95 C201.87,596.3 203.97,596.51 206.07,597.01 C208.17,597.5 210.26,598.31 212.36,598.91 C214.46,599.51 216.56,599.89 218.66,600.6 C220.76,601.3 222.86,602.15 224.95,603.13 C227.05,604.12 229.15,605.37 231.25,606.51 C233.35,607.66 235.45,608.98 237.55,610 C239.64,611.02 241.74,611.46 243.84,612.64 C245.94,613.82 248.04,615.67 250.14,617.08 C252.24,618.49 254.33,619.86 256.43,621.09 C258.53,622.32 260.63,623.45 262.73,624.47 C264.83,625.49 266.93,626.57 269.02,627.22 C271.12,627.87 273.22,628.49 275.32,628.38 C277.42,628.28 279.52,627.91 281.62,626.59 C283.72,625.27 285.81,623.73 287.91,620.46 C290.01,617.18 292.11,613.01 294.21,606.94 C296.31,600.86 298.41,594.45 300.5,584.01 C302.6,573.57 305.75,550.91 306.8,544.29" fill="none" stroke="#ff0000" stroke-width="0.9"/>
<circle cx="155.7" cy="592.78" r="1.95" fill="#ff0000"/>
<circle cx="162" cy="592.78" r="1.95" fill="#ff0000"/>
<circle cx="168.29" cy="592.99" r="1.95" fill="#ff0000"/>
<circle cx="174.59" cy="593.31" r="1.95" fill="#ff0000"/>
<circle cx="180.88" cy="593.84" r="1.95" fill="#ff0000"/>
<circle cx="187.18" cy="594.16" r="1.95" fill="#ff0000"/>
<circle cx="193.47" cy="594.89" r="1.95" fill="#ff0000"/>
<circle cx="199.77" cy="595.95" r="1.95" fill="#ff0000"/>
<circle cx="206.07" cy="597.01" r="1.95" fill="#ff0000"/>
<circle cx="212.36" cy="598.91" r="1.95" fill="#ff0000"/>
<circle cx="218.66" cy="600.6" r="1.95" fill="#ff0000"/>
<circle cx="224.95" cy="603.13" r="1.95" fill="#ff0000"/>
<circle cx="231.25" cy="606.51" r="1.95" fill="#ff0000"/>
<circle cx="237.55" cy="610" r="1.95" fill="#ff0000"/>
<circle cx="243.84" cy="612.64" r="1.95" fill="#ff0000"/>
<circle cx="250.14" cy="617.08" r="1.95" fill="#ff0000"/>
<circle cx="256.43" cy="621.09" r="1.95" fill="#ff0000"/>
<circle cx="262.73" cy="624.47" r="1.95" fill="#ff0000"/>
<circle cx="269.02" cy="627.22" r="1.95" fill="#ff0000"/>
<circle cx="275.32" cy="628.38" r="1.95" fill="#ff0000"/>
<circle cx="281.62" cy="626.59" r="1.95" fill="#ff0000"/>
<circle cx="287.91" cy="620.46" r="1.95" fill="#ff0000"/>
<circle cx="294.21" cy="606.94" r="1.95" fill="#ff0000"/>
<circle cx="300.5" cy="584.01" r="1.95" fill="#ff0000"/>
<circle cx="306.8" cy="544.29" r="1.95" fill="#ff0000"/>
<path d="M155.7,592.78 C156.75,592.78 159.9,592.75 162,592.78 C164.09,592.82 166.19,592.91 168.29,592.99 C170.39,593.08 172.49,593.17 174.59,593.31 C176.69,593.45 178.78,593.7 180.88,593.84 C182.98,593.98 185.08,593.98 187.18,594.16 C189.28,594.33 191.38,594.6 193.47,594.89 C195.57,595.19 197.67,595.6 199.77,595.95 C201.87,596.3 203.97,596.48 206.07,597.01 C208.17,597.54 210.26,598.49 212.36,599.12 C214.46,599.75 216.56,600.11 218.66,600.81 C220.76,601.51 222.86,602.32 224.95,603.35 C227.05,604.37 229.15,605.74 231.25,606.94 C233.35,608.13 235.45,609.23 237.55,610.53 C239.64,611.83 241.74,613.24 243.84,614.75 C245.94,616.27 248.04,617.99 250.14,619.61 C252.24,621.23 254.33,622.78 256.43,624.47 C258.53,626.16 260.63,628.28 262.73,629.75 C264.83,631.23 266.93,632.31 269.02,633.35 C271.12,634.38 273.22,635.55 275.32,635.99 C277.42,636.43 279.52,636.67 281.62,635.99 C283.72,635.3 285.81,634.35 287.91,631.87 C290.01,629.38 292.11,626.43 294.21,621.09 C296.31,615.76 298.41,609.31 300.5,599.86 C302.6,590.4 305.75,570.28 306.8,564.37" fill="none" stroke="#0000ff" stroke-width="0.9"/>
<polygon points="155.7,590.68 157.79,594.3 153.61,594.3" fill="#0000ff"/>
<polygon points="162,590.68 164.09,594.3 159.91,594.3" fill="#0000ff"/>
<polygon points="168.29,590.89 170.38,594.52 166.2,594.52" fill="#0000ff"/>
<polygon points="174.59,591.21 176.68,594.83 172.5,594.83" fill="#0000ff"/>
<polygon points="180.88,591.74 182.97,595.36 178.79,595.36" fill="#0000ff"/>
<polygon points="187.18,592.05 189.27,595.68 185.09,595.68" fill="#0000ff"/>
<polygon points="193.47,592.79 195.57,596.42 191.38,596.42" fill="#0000ff"/>
<polygon points="199.77,593.85 201.86,597.47 197.68,597.47" fill="#0000ff"/>
<polygon points="206.07,594.9 208.16,598.53 203.98,598.53" fill="#0000ff"/>
<polygon points="212.36,597.02 214.45,600.64 210.27,600.64" fill="#0000ff"/>
<polygon points="218.66,598.71 220.75,602.33 216.57,602.33" fill="#0000ff"/>
<polygon points="224.95,601.24 227.04,604.87 222.86,604.87" fill="#0000ff"/>
<polygon points="231.25,604.83 233.34,608.46 229.16,608.46" fill="#0000ff"/>
<polygon points="237.55,608.43 239.64,612.05 235.46,612.05" fill="#0000ff"/>
<polygon points="243.84,612.65 245.93,616.28 241.75,616.28" fill="#0000ff"/>
<polygon points="250.14,617.51 252.23,621.14 248.05,621.14" fill="#0000ff"/>
<polygon points="256.43,622.37 258.52,626 254.34,626" fill="#0000ff"/>
<polygon points="262.73,627.65 264.82,631.28 260.64,631.28" fill="#0000ff"/>
<polygon points="269.02,631.24 271.12,634.87 266.93,634.87" fill="#0000ff"/>
<polygon points="275.32,633.88 277.41,637.51 273.23,637.51" fill="#0000ff"/>
<polygon points="281.62,633.88 283.71,637.51 279.53,637.51" fill="#0000ff"/>
<polygon points="287.91,629.76 290,633.39 285.82,633.39" fill="#0000ff"/>
<polygon points="294.21,618.99 296.3,622.62 292.12,622.62" fill="#0000ff"/>
<polygon points="300.5,597.76 302.59,601.38 298.41,601.38" fill="#0000ff"/>
<polygon points="306.8,562.26 308.89,565.89 304.71,565.89" fill="#0000ff"/>
</g>
<rect x="155.7" y="529.4" width="151.1" height="116.2" fill="none" stroke="#111" stroke-width="1.2"/>
<line x1="155.7" y1="529.4" x2="159.2" y2="529.4" stroke="#111" stroke-width="0.9" />
<line x1="155.7" y1="550.53" x2="159.2" y2="550.53" stroke="#111" stroke-width="0.9" />
<line x1="155.7" y1="571.65" x2="159.2" y2="571.65" stroke="#111" stroke-width="0.9" />
<line x1="155.7" y1="592.78" x2="159.2" y2="592.78" stroke="#111" stroke-width="0.9" />
<line x1="155.7" y1="613.91" x2="159.2" y2="613.91" stroke="#111" stroke-width="0.9" />
<line x1="155.7" y1="635.04" x2="159.2" y2="635.04" stroke="#111" stroke-width="0.9" />
<line x1="155.7" y1="539.96" x2="157.7" y2="539.96" stroke="#111" stroke-width="0.9" />
<line x1="155.7" y1="561.09" x2="157.7" y2="561.09" stroke="#111" stroke-width="0.9" />
<line x1="155.7" y1="582.22" x2="157.7" y2="582.22" stroke="#111" stroke-width="0.9" />
<line x1="155.7" y1="603.35" x2="157.7" y2="603.35" stroke="#111" stroke-width="0.9" />
<line x1="155.7" y1="624.47" x2="157.7" y2="624.47" stroke="#111" stroke-width="0.9" />
<line x1="155.7" y1="645.6" x2="155.7" y2="642.1" stroke="#111" stroke-width="0.9" />
<line x1="180.88" y1="645.6" x2="180.88" y2="642.1" stroke="#111" stroke-width="0.9" />
<line x1="206.07" y1="645.6" x2="206.07" y2="642.1" stroke="#111" stroke-width="0.9" />
<line x1="231.25" y1="645.6" x2="231.25" y2="642.1" stroke="#111" stroke-width="0.9" />
<line x1="256.43" y1="645.6" x2="256.43" y2="642.1" stroke="#111" stroke-width="0.9" />
<line x1="281.62" y1="645.6" x2="281.62" y2="642.1" stroke="#111" stroke-width="0.9" />
<line x1="306.8" y1="645.6" x2="306.8" y2="642.1" stroke="#111" stroke-width="0.9" />
<line x1="168.29" y1="645.6" x2="168.29" y2="643.6" stroke="#111" stroke-width="0.9" />
<line x1="193.47" y1="645.6" x2="193.47" y2="643.6" stroke="#111" stroke-width="0.9" />
<line x1="218.66" y1="645.6" x2="218.66" y2="643.6" stroke="#111" stroke-width="0.9" />
<line x1="243.84" y1="645.6" x2="243.84" y2="643.6" stroke="#111" stroke-width="0.9" />
<line x1="269.02" y1="645.6" x2="269.02" y2="643.6" stroke="#111" stroke-width="0.9" />
<line x1="294.21" y1="645.6" x2="294.21" y2="643.6" stroke="#111" stroke-width="0.9" />
<text transform="translate(153.2,532.82) scale(1.0,1)" font-size="9.5" text-anchor="end" font-family='"Liberation Sans", sans-serif' >6.0x10<tspan dx="-0.3" dy="-3.99" font-size="5.70">-5</tspan></text>
<text transform="translate(153.2,553.95) scale(1.0,1)" font-size="9.5" text-anchor="end" font-family='"Liberation Sans", sans-serif' >4.0x10<tspan dx="-0.3" dy="-3.99" font-size="5.70">-5</tspan></text>
<text transform="translate(153.2,575.07) scale(1.0,1)" font-size="9.5" text-anchor="end" font-family='"Liberation Sans", sans-serif' >2.0x10<tspan dx="-0.3" dy="-3.99" font-size="5.70">-5</tspan></text>
<text transform="translate(153.2,596.2) scale(1.0,1)" font-size="9.5" text-anchor="end" font-family='"Liberation Sans", sans-serif' >0.0</text>
<text transform="translate(153.2,617.33) scale(1.0,1)" font-size="9.5" text-anchor="end" font-family='"Liberation Sans", sans-serif' >-2.0x10<tspan dx="-0.3" dy="-3.99" font-size="5.70">-5</tspan></text>
<text transform="translate(153.2,638.46) scale(1.0,1)" font-size="9.5" text-anchor="end" font-family='"Liberation Sans", sans-serif' >-4.0x10<tspan dx="-0.3" dy="-3.99" font-size="5.70">-5</tspan></text>
<text transform="translate(155.7,655.5) scale(1.0,1)" font-size="9.5" text-anchor="middle" font-family='"Liberation Sans", sans-serif' >60</text>
<text transform="translate(180.88,655.5) scale(1.0,1)" font-size="9.5" text-anchor="middle" font-family='"Liberation Sans", sans-serif' >80</text>
<text transform="translate(206.07,655.5) scale(1.0,1)" font-size="9.5" text-anchor="middle" font-family='"Liberation Sans", sans-serif' >100</text>
<text transform="translate(231.25,655.5) scale(1.0,1)" font-size="9.5" text-anchor="middle" font-family='"Liberation Sans", sans-serif' >120</text>
<text transform="translate(256.43,655.5) scale(1.0,1)" font-size="9.5" text-anchor="middle" font-family='"Liberation Sans", sans-serif' >140</text>
<text transform="translate(281.62,655.5) scale(1.0,1)" font-size="9.5" text-anchor="middle" font-family='"Liberation Sans", sans-serif' >160</text>
<text transform="translate(306.8,655.5) scale(1.0,1)" font-size="9.5" text-anchor="middle" font-family='"Liberation Sans", sans-serif' >180</text>
<text transform="translate(231.6,668.8) scale(1.0,1)" font-size="12.3" text-anchor="middle" font-family='"Liberation Sans", sans-serif' >T<tspan dy="3.69" font-size="7.63">L</tspan><tspan dy="-3.69">(K)</tspan></text>
<text transform="translate(111.4,595.1) rotate(-90) scale(1,1.0)" font-size="12.6" text-anchor="middle" font-family='"Liberation Sans", sans-serif' >I<tspan dy="3.78" font-size="7.81">C</tspan><tspan dy="-3.78">(nA)</tspan></text>
<line x1="161" y1="537.5" x2="185.9" y2="537.5" stroke="#111" stroke-width="1" />
<rect x="170.8" y="534.7" width="5.8" height="5.8" fill="#000"/>
<text transform="translate(189,541.63) scale(1.0,1)" font-size="11.2" text-anchor="start" font-family='"Liberation Sans", sans-serif' ><tspan font-size="8.3">Δ</tspan>T=20K</text>
<line x1="161" y1="551.5" x2="185.9" y2="551.5" stroke="#d42a2a" stroke-width="1" />
<circle cx="173.7" cy="551.3" r="3.3" fill="#ff0000"/>
<text transform="translate(189,555.33) scale(1.0,1)" font-size="11.2" text-anchor="start" font-family='"Liberation Sans", sans-serif' ><tspan font-size="8.3">Δ</tspan>T=40K</text>
<line x1="161" y1="564.5" x2="185.9" y2="564.5" stroke="#2a2ac8" stroke-width="1" />
<polygon points="173.7,560.95 177.43,567.42 169.97,567.42" fill="#0000ff"/>
<text transform="translate(189,568.73) scale(1.0,1)" font-size="11.2" text-anchor="start" font-family='"Liberation Sans", sans-serif' ><tspan font-size="8.3">Δ</tspan>T=60K</text>
<rect x="180.3" y="616.5" width="32.2" height="13.8" fill="#fff" stroke="#bbb" stroke-width="0.9"/>
<text transform="translate(196.4,627) scale(1.0,1)" font-size="9.8" text-anchor="middle" font-family='"Liberation Sans", sans-serif' >NDTR</text>
<line x1="212.5" y1="623.3" x2="232.5" y2="623.3" stroke="#000" stroke-width="1.0" />
<polygon points="236,623.3 231,621.4 231,625.2" fill="#000"/>
<text transform="translate(269.2,575.5) scale(1.0,1)" font-size="10" text-anchor="start" font-family='"Liberation Sans", sans-serif' >I<tspan dy="3.00" font-size="6.20">C</tspan><tspan dy="-3.00">=0</tspan></text>
<line x1="281.4" y1="579" x2="289.6" y2="589.1" stroke="#000" stroke-width="1.1" />
<polygon points="291.6,591.7 286.9,588.9 289.6,586.7" fill="#000"/>
<line x1="537.1" y1="7.7" x2="537.1" y2="198.2" stroke="#888" stroke-width="0.8" stroke-dasharray="1.1,1.3"/>
<clipPath id="cr1"><rect x="408.2" y="3.7" width="257.8" height="194.5"/></clipPath>
<g clip-path="url(#cr1)">
<polyline points="408.2,193.02 414.64,192.82 421.09,192.57 427.53,192.28 433.98,191.93 440.43,191.52 446.87,191.02 453.31,190.42 459.76,189.7 466.2,188.84 472.65,187.81 479.09,186.59 485.54,185.11 491.99,183.35 498.43,181.24 504.88,178.71 511.32,175.69 517.76,172.07 524.21,167.73 530.65,162.54" fill="none" stroke="#000" stroke-width="1" stroke-linejoin="round" />
<rect x="405.4" y="190.22" width="5.6" height="5.6" fill="#000"/>
<rect x="411.84" y="190.02" width="5.6" height="5.6" fill="#000"/>
<rect x="418.29" y="189.77" width="5.6" height="5.6" fill="#000"/>
<rect x="424.73" y="189.48" width="5.6" height="5.6" fill="#000"/>
<rect x="431.18" y="189.13" width="5.6" height="5.6" fill="#000"/>
<rect x="437.62" y="188.72" width="5.6" height="5.6" fill="#000"/>
<rect x="444.07" y="188.22" width="5.6" height="5.6" fill="#000"/>
<rect x="450.51" y="187.62" width="5.6" height="5.6" fill="#000"/>
<rect x="456.96" y="186.9" width="5.6" height="5.6" fill="#000"/>
<rect x="463.4" y="186.04" width="5.6" height="5.6" fill="#000"/>
<rect x="469.85" y="185.01" width="5.6" height="5.6" fill="#000"/>
<rect x="476.29" y="183.79" width="5.6" height="5.6" fill="#000"/>
<rect x="482.74" y="182.31" width="5.6" height="5.6" fill="#000"/>
<rect x="489.19" y="180.55" width="5.6" height="5.6" fill="#000"/>
<rect x="495.63" y="178.44" width="5.6" height="5.6" fill="#000"/>
<rect x="502.07" y="175.91" width="5.6" height="5.6" fill="#000"/>
<rect x="508.52" y="172.89" width="5.6" height="5.6" fill="#000"/>
<rect x="514.97" y="169.27" width="5.6" height="5.6" fill="#000"/>
<rect x="521.41" y="164.93" width="5.6" height="5.6" fill="#000"/>
<rect x="527.86" y="159.74" width="5.6" height="5.6" fill="#000"/>
</g>
<clipPath id="cr2"><rect x="408.2" y="3.7" width="257.8" height="194.5"/></clipPath>
<g clip-path="url(#cr2)">
<polyline points="543.54,150.1 549.99,142.56 556.43,133.13 562.88,123.7 569.33,113.7 575.77,103.14 582.21,93.14 588.66,83.71 595.11,74.28 601.55,66.55 608,59 614.44,52.78 620.88,47.69 627.33,43.54 633.77,40.33 640.22,37.31 646.66,34.86 653.11,32.79 659.55,30.9 666,29.58" fill="none" stroke="#000" stroke-width="1" stroke-linejoin="round" />
<rect x="540.75" y="147.3" width="5.6" height="5.6" fill="#000"/>
<rect x="547.19" y="139.76" width="5.6" height="5.6" fill="#000"/>
<rect x="553.63" y="130.33" width="5.6" height="5.6" fill="#000"/>
<rect x="560.08" y="120.9" width="5.6" height="5.6" fill="#000"/>
<rect x="566.53" y="110.9" width="5.6" height="5.6" fill="#000"/>
<rect x="572.97" y="100.34" width="5.6" height="5.6" fill="#000"/>
<rect x="579.41" y="90.34" width="5.6" height="5.6" fill="#000"/>
<rect x="585.86" y="80.91" width="5.6" height="5.6" fill="#000"/>
<rect x="592.31" y="71.48" width="5.6" height="5.6" fill="#000"/>
<rect x="598.75" y="63.75" width="5.6" height="5.6" fill="#000"/>
<rect x="605.2" y="56.2" width="5.6" height="5.6" fill="#000"/>
<rect x="611.64" y="49.98" width="5.6" height="5.6" fill="#000"/>
<rect x="618.09" y="44.89" width="5.6" height="5.6" fill="#000"/>
<rect x="624.53" y="40.74" width="5.6" height="5.6" fill="#000"/>
<rect x="630.98" y="37.53" width="5.6" height="5.6" fill="#000"/>
<rect x="637.42" y="34.51" width="5.6" height="5.6" fill="#000"/>
<rect x="643.87" y="32.06" width="5.6" height="5.6" fill="#000"/>
<rect x="650.31" y="29.99" width="5.6" height="5.6" fill="#000"/>
<rect x="656.75" y="28.1" width="5.6" height="5.6" fill="#000"/>
<rect x="663.2" y="26.78" width="5.6" height="5.6" fill="#000"/>
</g>
<clipPath id="cr3"><rect x="408.2" y="3.7" width="257.8" height="194.5"/></clipPath>
<g clip-path="url(#cr3)">
<polyline points="408.2,193.52 414.64,193.41 421.09,193.29 427.53,193.16 433.98,193.01 440.43,192.85 446.87,192.66 453.31,192.46 459.76,192.23 466.2,191.98 472.65,191.69 479.09,191.37 485.54,191.02 491.99,190.62 498.43,190.18 504.88,189.68 511.32,189.13 517.76,188.52 524.21,187.83 530.65,187.06" fill="none" stroke="#ff0000" stroke-width="1" stroke-linejoin="round" />
<circle cx="408.2" cy="193.52" r="3.2" fill="#ff0000"/>
<circle cx="414.64" cy="193.41" r="3.2" fill="#ff0000"/>
<circle cx="421.09" cy="193.29" r="3.2" fill="#ff0000"/>
<circle cx="427.53" cy="193.16" r="3.2" fill="#ff0000"/>
<circle cx="433.98" cy="193.01" r="3.2" fill="#ff0000"/>
<circle cx="440.43" cy="192.85" r="3.2" fill="#ff0000"/>
<circle cx="446.87" cy="192.66" r="3.2" fill="#ff0000"/>
<circle cx="453.31" cy="192.46" r="3.2" fill="#ff0000"/>
<circle cx="459.76" cy="192.23" r="3.2" fill="#ff0000"/>
<circle cx="466.2" cy="191.98" r="3.2" fill="#ff0000"/>
<circle cx="472.65" cy="191.69" r="3.2" fill="#ff0000"/>
<circle cx="479.09" cy="191.37" r="3.2" fill="#ff0000"/>
<circle cx="485.54" cy="191.02" r="3.2" fill="#ff0000"/>
<circle cx="491.99" cy="190.62" r="3.2" fill="#ff0000"/>
<circle cx="498.43" cy="190.18" r="3.2" fill="#ff0000"/>
<circle cx="504.88" cy="189.68" r="3.2" fill="#ff0000"/>
<circle cx="511.32" cy="189.13" r="3.2" fill="#ff0000"/>
<circle cx="517.76" cy="188.52" r="3.2" fill="#ff0000"/>
<circle cx="524.21" cy="187.83" r="3.2" fill="#ff0000"/>
<circle cx="530.65" cy="187.06" r="3.2" fill="#ff0000"/>
</g>
<clipPath id="cr4"><rect x="408.2" y="3.7" width="257.8" height="194.5"/></clipPath>
<g clip-path="url(#cr4)">
<polyline points="543.54,185.37 549.99,183.68 556.43,182.17 562.88,180.66 569.33,178.96 575.77,177.08 582.21,175 588.66,173.11 595.11,171.42 601.55,169.53 608,167.83 614.44,166.14 620.88,164.63 627.33,163.31 633.77,161.99 640.22,161.04 646.66,160.1 653.11,159.35 659.55,158.97 666,158.59" fill="none" stroke="#ff0000" stroke-width="1" stroke-linejoin="round" />
<circle cx="543.54" cy="185.37" r="3.2" fill="#ff0000"/>
<circle cx="549.99" cy="183.68" r="3.2" fill="#ff0000"/>
<circle cx="556.43" cy="182.17" r="3.2" fill="#ff0000"/>
<circle cx="562.88" cy="180.66" r="3.2" fill="#ff0000"/>
<circle cx="569.33" cy="178.96" r="3.2" fill="#ff0000"/>
<circle cx="575.77" cy="177.08" r="3.2" fill="#ff0000"/>
<circle cx="582.21" cy="175" r="3.2" fill="#ff0000"/>
<circle cx="588.66" cy="173.11" r="3.2" fill="#ff0000"/>
<circle cx="595.11" cy="171.42" r="3.2" fill="#ff0000"/>
<circle cx="601.55" cy="169.53" r="3.2" fill="#ff0000"/>
<circle cx="608" cy="167.83" r="3.2" fill="#ff0000"/>
<circle cx="614.44" cy="166.14" r="3.2" fill="#ff0000"/>
<circle cx="620.88" cy="164.63" r="3.2" fill="#ff0000"/>
<circle cx="627.33" cy="163.31" r="3.2" fill="#ff0000"/>
<circle cx="633.77" cy="161.99" r="3.2" fill="#ff0000"/>
<circle cx="640.22" cy="161.04" r="3.2" fill="#ff0000"/>
<circle cx="646.66" cy="160.1" r="3.2" fill="#ff0000"/>
<circle cx="653.11" cy="159.35" r="3.2" fill="#ff0000"/>
<circle cx="659.55" cy="158.97" r="3.2" fill="#ff0000"/>
<circle cx="666" cy="158.59" r="3.2" fill="#ff0000"/>
</g>
<clipPath id="cr5"><rect x="408.2" y="3.7" width="257.8" height="194.5"/></clipPath>
<g clip-path="url(#cr5)">
<polyline points="408.2,194.27 414.64,194.21 421.09,194.14 427.53,194.07 433.98,194 440.43,193.91 446.87,193.82 453.31,193.73 459.76,193.62 466.2,193.51 472.65,193.38 479.09,193.25 485.54,193.1 491.99,192.95 498.43,192.78 504.88,192.59 511.32,192.39 517.76,192.17 524.21,191.94 530.65,191.69" fill="none" stroke="#0000ff" stroke-width="1" stroke-linejoin="round" />
<polygon points="408.2,190.8 411.65,196.78 404.75,196.78" fill="#0000ff"/>
<polygon points="414.64,190.74 418.09,196.72 411.2,196.72" fill="#0000ff"/>
<polygon points="421.09,190.68 424.54,196.66 417.64,196.66" fill="#0000ff"/>
<polygon points="427.53,190.61 430.98,196.58 424.09,196.58" fill="#0000ff"/>
<polygon points="433.98,190.53 437.43,196.51 430.53,196.51" fill="#0000ff"/>
<polygon points="440.43,190.45 443.87,196.42 436.98,196.42" fill="#0000ff"/>
<polygon points="446.87,190.36 450.32,196.34 443.42,196.34" fill="#0000ff"/>
<polygon points="453.31,190.26 456.76,196.24 449.87,196.24" fill="#0000ff"/>
<polygon points="459.76,190.15 463.21,196.13 456.31,196.13" fill="#0000ff"/>
<polygon points="466.2,190.04 469.65,196.02 462.76,196.02" fill="#0000ff"/>
<polygon points="472.65,189.92 476.1,195.89 469.2,195.89" fill="#0000ff"/>
<polygon points="479.09,189.78 482.54,195.76 475.65,195.76" fill="#0000ff"/>
<polygon points="485.54,189.64 488.99,195.61 482.09,195.61" fill="#0000ff"/>
<polygon points="491.99,189.48 495.43,195.46 488.54,195.46" fill="#0000ff"/>
<polygon points="498.43,189.31 501.88,195.29 494.98,195.29" fill="#0000ff"/>
<polygon points="504.88,189.12 508.32,195.1 501.43,195.1" fill="#0000ff"/>
<polygon points="511.32,188.92 514.77,194.9 507.87,194.9" fill="#0000ff"/>
<polygon points="517.76,188.71 521.21,194.69 514.32,194.69" fill="#0000ff"/>
<polygon points="524.21,188.47 527.66,194.45 520.76,194.45" fill="#0000ff"/>
<polygon points="530.65,188.22 534.1,194.2 527.21,194.2" fill="#0000ff"/>
</g>
<clipPath id="cr6"><rect x="408.2" y="3.7" width="257.8" height="194.5"/></clipPath>
<g clip-path="url(#cr6)">
<polyline points="543.54,191.41 549.99,190.94 556.43,190.48 562.88,190.01 569.33,189.55 575.77,189.08 582.21,188.61 588.66,188.15 595.11,187.68 601.55,187.22 608,186.75 614.44,186.29 620.88,185.82 627.33,185.35 633.77,184.89 640.22,184.42 646.66,183.96 653.11,183.49 659.55,183.02 666,182.56" fill="none" stroke="#0000ff" stroke-width="1" stroke-linejoin="round" />
<polygon points="543.54,187.94 546.99,193.92 540.1,193.92" fill="#0000ff"/>
<polygon points="549.99,187.48 553.44,193.45 546.54,193.45" fill="#0000ff"/>
<polygon points="556.43,187.01 559.88,192.99 552.99,192.99" fill="#0000ff"/>
<polygon points="562.88,186.55 566.33,192.52 559.43,192.52" fill="#0000ff"/>
<polygon points="569.33,186.08 572.77,192.06 565.88,192.06" fill="#0000ff"/>
<polygon points="575.77,185.61 579.22,191.59 572.32,191.59" fill="#0000ff"/>
<polygon points="582.21,185.15 585.66,191.13 578.77,191.13" fill="#0000ff"/>
<polygon points="588.66,184.68 592.11,190.66 585.21,190.66" fill="#0000ff"/>
<polygon points="595.11,184.22 598.55,190.19 591.66,190.19" fill="#0000ff"/>
<polygon points="601.55,183.75 605,189.73 598.1,189.73" fill="#0000ff"/>
<polygon points="608,183.28 611.44,189.26 604.55,189.26" fill="#0000ff"/>
<polygon points="614.44,182.82 617.89,188.8 610.99,188.8" fill="#0000ff"/>
<polygon points="620.88,182.35 624.33,188.33 617.44,188.33" fill="#0000ff"/>
<polygon points="627.33,181.89 630.78,187.86 623.88,187.86" fill="#0000ff"/>
<polygon points="633.77,181.42 637.22,187.4 630.33,187.4" fill="#0000ff"/>
<polygon points="640.22,180.95 643.67,186.93 636.77,186.93" fill="#0000ff"/>
<polygon points="646.66,180.49 650.11,186.47 643.22,186.47" fill="#0000ff"/>
<polygon points="653.11,180.02 656.56,186 649.66,186" fill="#0000ff"/>
<polygon points="659.55,179.56 663,185.53 656.11,185.53" fill="#0000ff"/>
<polygon points="666,179.09 669.45,185.07 662.55,185.07" fill="#0000ff"/>
</g>
<rect x="408.5" y="7.5" width="258" height="191" fill="none" stroke="#111" stroke-width="1.3"/>
<line x1="408.5" y1="196.5" x2="412.5" y2="196.5" stroke="#111" stroke-width="1" />
<line x1="408.5" y1="158.5" x2="412.5" y2="158.5" stroke="#111" stroke-width="1" />
<line x1="408.5" y1="120.5" x2="412.5" y2="120.5" stroke="#111" stroke-width="1" />
<line x1="408.5" y1="83.5" x2="412.5" y2="83.5" stroke="#111" stroke-width="1" />
<line x1="408.5" y1="45.5" x2="412.5" y2="45.5" stroke="#111" stroke-width="1" />
<line x1="408.5" y1="7.5" x2="412.5" y2="7.5" stroke="#111" stroke-width="1" />
<line x1="408.5" y1="177.5" x2="410.7" y2="177.5" stroke="#111" stroke-width="1" />
<line x1="408.5" y1="139.5" x2="410.7" y2="139.5" stroke="#111" stroke-width="1" />
<line x1="408.5" y1="102.5" x2="410.7" y2="102.5" stroke="#111" stroke-width="1" />
<line x1="408.5" y1="64.5" x2="410.7" y2="64.5" stroke="#111" stroke-width="1" />
<line x1="408.5" y1="26.5" x2="410.7" y2="26.5" stroke="#111" stroke-width="1" />
<line x1="408.5" y1="198.5" x2="408.5" y2="194.5" stroke="#111" stroke-width="1" />
<line x1="472.5" y1="198.5" x2="472.5" y2="194.5" stroke="#111" stroke-width="1" />
<line x1="537.5" y1="198.5" x2="537.5" y2="194.5" stroke="#111" stroke-width="1" />
<line x1="601.5" y1="198.5" x2="601.5" y2="194.5" stroke="#111" stroke-width="1" />
<line x1="666.5" y1="198.5" x2="666.5" y2="194.5" stroke="#111" stroke-width="1" />
<line x1="440.5" y1="198.5" x2="440.5" y2="196.3" stroke="#111" stroke-width="1" />
<line x1="504.5" y1="198.5" x2="504.5" y2="196.3" stroke="#111" stroke-width="1" />
<line x1="569.5" y1="198.5" x2="569.5" y2="196.3" stroke="#111" stroke-width="1" />
<line x1="633.5" y1="198.5" x2="633.5" y2="196.3" stroke="#111" stroke-width="1" />
<text transform="translate(404.2,12.08) scale(1.05,1)" font-size="10.5" text-anchor="end" font-family='"Liberation Sans", sans-serif' >1.0x10<tspan dx="-0.6" dy="-4.41" font-size="7.14">6</tspan></text>
<text transform="translate(404.2,49.2) scale(1.05,1)" font-size="10.5" text-anchor="end" font-family='"Liberation Sans", sans-serif' >8.0x10<tspan dx="-0.6" dy="-4.41" font-size="7.14">5</tspan></text>
<text transform="translate(404.2,86.93) scale(1.05,1)" font-size="10.5" text-anchor="end" font-family='"Liberation Sans", sans-serif' >6.0x10<tspan dx="-0.6" dy="-4.41" font-size="7.14">5</tspan></text>
<text transform="translate(404.2,124.65) scale(1.05,1)" font-size="10.5" text-anchor="end" font-family='"Liberation Sans", sans-serif' >4.0x10<tspan dx="-0.6" dy="-4.41" font-size="7.14">5</tspan></text>
<text transform="translate(404.2,162.37) scale(1.05,1)" font-size="10.5" text-anchor="end" font-family='"Liberation Sans", sans-serif' >2.0x10<tspan dx="-0.6" dy="-4.41" font-size="7.14">5</tspan></text>
<text transform="translate(404.2,199.49) scale(1.05,1)" font-size="10.5" text-anchor="end" font-family='"Liberation Sans", sans-serif' >0.0</text>
<text transform="translate(408.2,211.2) scale(1.05,1)" font-size="10.5" text-anchor="middle" font-family='"Liberation Sans", sans-serif' >-200</text>
<text transform="translate(472.65,211.2) scale(1.05,1)" font-size="10.5" text-anchor="middle" font-family='"Liberation Sans", sans-serif' >-100</text>
<text transform="translate(537.1,211.2) scale(1.05,1)" font-size="10.5" text-anchor="middle" font-family='"Liberation Sans", sans-serif' >0</text>
<text transform="translate(601.55,211.2) scale(1.05,1)" font-size="10.5" text-anchor="middle" font-family='"Liberation Sans", sans-serif' >100</text>
<text transform="translate(666,211.2) scale(1.05,1)" font-size="10.5" text-anchor="middle" font-family='"Liberation Sans", sans-serif' >200</text>
<text transform="translate(537.1,233.9) scale(1.04,1)" font-family='"Liberation Sans", sans-serif' font-size="15" text-anchor="middle"><tspan font-size="11">Δ</tspan>T(K)</text>
<text transform="translate(360.6,112.4) rotate(-90) scale(1,1.0)" font-size="15.6" text-anchor="middle" font-family='"Liberation Sans", sans-serif' >MR(%)</text>
<text transform="translate(339.5,23.6) scale(1.0,1)" font-size="23" text-anchor="start" font-family='"Liberation Serif", serif' >(d)</text>
<line x1="423.1" y1="21.5" x2="447.6" y2="21.5" stroke="#111" stroke-width="1" />
<rect x="432.7" y="18.7" width="5.4" height="5.4" fill="#000"/>
<text transform="translate(451,25.43) scale(1.0,1)" font-size="11.2" text-anchor="start" font-family='"Liberation Sans", sans-serif' >T<tspan dy="3.8" font-size="6.6">L</tspan><tspan dy="-3.8">=250K</tspan></text>
<line x1="423.1" y1="38.5" x2="447.6" y2="38.5" stroke="#d42a2a" stroke-width="1" />
<circle cx="435.4" cy="38.9" r="3.2" fill="#ff0000"/>
<text transform="translate(451,42.93) scale(1.0,1)" font-size="11.2" text-anchor="start" font-family='"Liberation Sans", sans-serif' >T<tspan dy="3.8" font-size="6.6">L</tspan><tspan dy="-3.8">=300K</tspan></text>
<line x1="423.1" y1="55.5" x2="447.6" y2="55.5" stroke="#2a2ac8" stroke-width="1" />
<polygon points="435.4,51.96 439.02,58.23 431.78,58.23" fill="#0000ff"/>
<text transform="translate(451,59.63) scale(1.0,1)" font-size="11.2" text-anchor="start" font-family='"Liberation Sans", sans-serif' >T<tspan dy="3.8" font-size="6.6">L</tspan><tspan dy="-3.8">=350K</tspan></text>
<line x1="536.6" y1="244.6" x2="536.6" y2="435.9" stroke="#888" stroke-width="0.8" stroke-dasharray="1.1,1.3"/>
<clipPath id="cr7"><rect x="407.2" y="240.6" width="258.8" height="195.3"/></clipPath>
<g clip-path="url(#cr7)">
<polyline points="407.2,328.35 413.67,333.86 420.14,339.26 426.61,344.56 433.08,349.74 439.55,354.81 446.02,359.77 452.49,364.62 458.96,369.36 465.43,373.99 471.9,378.51 478.37,382.92 484.84,387.22 491.31,391.4 497.78,395.48 504.25,399.45 510.72,403.3 517.19,407.05 523.66,410.68 530.13,414.21" fill="none" stroke="#000" stroke-width="1" stroke-linejoin="round" />
<rect x="404.4" y="325.55" width="5.6" height="5.6" fill="#000"/>
<rect x="410.87" y="331.06" width="5.6" height="5.6" fill="#000"/>
<rect x="417.34" y="336.46" width="5.6" height="5.6" fill="#000"/>
<rect x="423.81" y="341.76" width="5.6" height="5.6" fill="#000"/>
<rect x="430.28" y="346.94" width="5.6" height="5.6" fill="#000"/>
<rect x="436.75" y="352.01" width="5.6" height="5.6" fill="#000"/>
<rect x="443.22" y="356.97" width="5.6" height="5.6" fill="#000"/>
<rect x="449.69" y="361.82" width="5.6" height="5.6" fill="#000"/>
<rect x="456.16" y="366.56" width="5.6" height="5.6" fill="#000"/>
<rect x="462.63" y="371.19" width="5.6" height="5.6" fill="#000"/>
<rect x="469.1" y="375.71" width="5.6" height="5.6" fill="#000"/>
<rect x="475.57" y="380.12" width="5.6" height="5.6" fill="#000"/>
<rect x="482.04" y="384.42" width="5.6" height="5.6" fill="#000"/>
<rect x="488.51" y="388.6" width="5.6" height="5.6" fill="#000"/>
<rect x="494.98" y="392.68" width="5.6" height="5.6" fill="#000"/>
<rect x="501.45" y="396.65" width="5.6" height="5.6" fill="#000"/>
<rect x="507.92" y="400.5" width="5.6" height="5.6" fill="#000"/>
<rect x="514.39" y="404.25" width="5.6" height="5.6" fill="#000"/>
<rect x="520.86" y="407.88" width="5.6" height="5.6" fill="#000"/>
<rect x="527.33" y="411.41" width="5.6" height="5.6" fill="#000"/>
</g>
<clipPath id="cr8"><rect x="407.2" y="240.6" width="258.8" height="195.3"/></clipPath>
<g clip-path="url(#cr8)">
<polyline points="543.07,417.62 549.54,420.46 556.01,422.19 562.48,423.23 568.95,423.87 575.42,424.25 581.89,424.49 588.36,424.63 594.83,424.71 601.3,424.77 607.77,424.8 614.24,424.82 620.71,424.83 627.18,424.84 633.65,424.84 640.12,424.84 646.59,424.84 653.06,424.85 659.53,424.85 666,424.85" fill="none" stroke="#000" stroke-width="1" stroke-linejoin="round" />
<rect x="540.27" y="414.82" width="5.6" height="5.6" fill="#000"/>
<rect x="546.74" y="417.66" width="5.6" height="5.6" fill="#000"/>
<rect x="553.21" y="419.39" width="5.6" height="5.6" fill="#000"/>
<rect x="559.68" y="420.43" width="5.6" height="5.6" fill="#000"/>
<rect x="566.15" y="421.07" width="5.6" height="5.6" fill="#000"/>
<rect x="572.62" y="421.45" width="5.6" height="5.6" fill="#000"/>
<rect x="579.09" y="421.69" width="5.6" height="5.6" fill="#000"/>
<rect x="585.56" y="421.83" width="5.6" height="5.6" fill="#000"/>
<rect x="592.03" y="421.91" width="5.6" height="5.6" fill="#000"/>
<rect x="598.5" y="421.97" width="5.6" height="5.6" fill="#000"/>
<rect x="604.97" y="422" width="5.6" height="5.6" fill="#000"/>
<rect x="611.44" y="422.02" width="5.6" height="5.6" fill="#000"/>
<rect x="617.91" y="422.03" width="5.6" height="5.6" fill="#000"/>
<rect x="624.38" y="422.04" width="5.6" height="5.6" fill="#000"/>
<rect x="630.85" y="422.04" width="5.6" height="5.6" fill="#000"/>
<rect x="637.32" y="422.04" width="5.6" height="5.6" fill="#000"/>
<rect x="643.79" y="422.04" width="5.6" height="5.6" fill="#000"/>
<rect x="650.26" y="422.05" width="5.6" height="5.6" fill="#000"/>
<rect x="656.73" y="422.05" width="5.6" height="5.6" fill="#000"/>
<rect x="663.2" y="422.05" width="5.6" height="5.6" fill="#000"/>
</g>
<clipPath id="cr9"><rect x="407.2" y="240.6" width="258.8" height="195.3"/></clipPath>
<g clip-path="url(#cr9)">
<polyline points="407.2,297.74 413.67,303.41 420.14,308.98 426.61,314.45 433.08,319.83 439.55,325.11 446.02,330.29 452.49,335.37 458.96,340.35 465.43,345.24 471.9,350.03 478.37,354.72 484.84,359.31 491.31,363.81 497.78,368.21 504.25,372.51 510.72,376.71 517.19,380.81 523.66,384.82 530.13,388.73" fill="none" stroke="#ff0000" stroke-width="1" stroke-linejoin="round" />
<circle cx="407.2" cy="297.74" r="3.2" fill="#ff0000"/>
<circle cx="413.67" cy="303.41" r="3.2" fill="#ff0000"/>
<circle cx="420.14" cy="308.98" r="3.2" fill="#ff0000"/>
<circle cx="426.61" cy="314.45" r="3.2" fill="#ff0000"/>
<circle cx="433.08" cy="319.83" r="3.2" fill="#ff0000"/>
<circle cx="439.55" cy="325.11" r="3.2" fill="#ff0000"/>
<circle cx="446.02" cy="330.29" r="3.2" fill="#ff0000"/>
<circle cx="452.49" cy="335.37" r="3.2" fill="#ff0000"/>
<circle cx="458.96" cy="340.35" r="3.2" fill="#ff0000"/>
<circle cx="465.43" cy="345.24" r="3.2" fill="#ff0000"/>
<circle cx="471.9" cy="350.03" r="3.2" fill="#ff0000"/>
<circle cx="478.37" cy="354.72" r="3.2" fill="#ff0000"/>
<circle cx="484.84" cy="359.31" r="3.2" fill="#ff0000"/>
<circle cx="491.31" cy="363.81" r="3.2" fill="#ff0000"/>
<circle cx="497.78" cy="368.21" r="3.2" fill="#ff0000"/>
<circle cx="504.25" cy="372.51" r="3.2" fill="#ff0000"/>
<circle cx="510.72" cy="376.71" r="3.2" fill="#ff0000"/>
<circle cx="517.19" cy="380.81" r="3.2" fill="#ff0000"/>
<circle cx="523.66" cy="384.82" r="3.2" fill="#ff0000"/>
<circle cx="530.13" cy="388.73" r="3.2" fill="#ff0000"/>
</g>
<clipPath id="cr10"><rect x="407.2" y="240.6" width="258.8" height="195.3"/></clipPath>
<g clip-path="url(#cr10)">
<polyline points="543.07,394.24 549.54,397.39 556.01,399.51 562.48,400.92 568.95,401.87 575.42,402.51 581.89,402.94 588.36,403.22 594.83,403.41 601.3,403.54 607.77,403.63 614.24,403.69 620.71,403.73 627.18,403.75 633.65,403.77 640.12,403.78 646.59,403.79 653.06,403.79 659.53,403.8 666,403.8" fill="none" stroke="#ff0000" stroke-width="1" stroke-linejoin="round" />
<circle cx="543.07" cy="394.24" r="3.2" fill="#ff0000"/>
<circle cx="549.54" cy="397.39" r="3.2" fill="#ff0000"/>
<circle cx="556.01" cy="399.51" r="3.2" fill="#ff0000"/>
<circle cx="562.48" cy="400.92" r="3.2" fill="#ff0000"/>
<circle cx="568.95" cy="401.87" r="3.2" fill="#ff0000"/>
<circle cx="575.42" cy="402.51" r="3.2" fill="#ff0000"/>
<circle cx="581.89" cy="402.94" r="3.2" fill="#ff0000"/>
<circle cx="588.36" cy="403.22" r="3.2" fill="#ff0000"/>
<circle cx="594.83" cy="403.41" r="3.2" fill="#ff0000"/>
<circle cx="601.3" cy="403.54" r="3.2" fill="#ff0000"/>
<circle cx="607.77" cy="403.63" r="3.2" fill="#ff0000"/>
<circle cx="614.24" cy="403.69" r="3.2" fill="#ff0000"/>
<circle cx="620.71" cy="403.73" r="3.2" fill="#ff0000"/>
<circle cx="627.18" cy="403.75" r="3.2" fill="#ff0000"/>
<circle cx="633.65" cy="403.77" r="3.2" fill="#ff0000"/>
<circle cx="640.12" cy="403.78" r="3.2" fill="#ff0000"/>
<circle cx="646.59" cy="403.79" r="3.2" fill="#ff0000"/>
<circle cx="653.06" cy="403.79" r="3.2" fill="#ff0000"/>
<circle cx="659.53" cy="403.8" r="3.2" fill="#ff0000"/>
<circle cx="666" cy="403.8" r="3.2" fill="#ff0000"/>
</g>
<clipPath id="cr11"><rect x="407.2" y="240.6" width="258.8" height="195.3"/></clipPath>
<g clip-path="url(#cr11)">
<polyline points="407.2,262.46 413.67,268.7 420.14,274.79 426.61,280.75 433.08,286.57 439.55,292.25 446.02,297.79 452.49,303.2 458.96,308.46 465.43,313.59 471.9,318.58 478.37,323.43 484.84,328.15 491.31,332.72 497.78,337.16 504.25,341.45 510.72,345.61 517.19,349.63 523.66,353.52 530.13,357.26" fill="none" stroke="#0000ff" stroke-width="1" stroke-linejoin="round" />
<polygon points="407.2,259 410.65,264.97 403.75,264.97" fill="#0000ff"/>
<polygon points="413.67,265.23 417.12,271.21 410.22,271.21" fill="#0000ff"/>
<polygon points="420.14,271.33 423.59,277.3 416.69,277.3" fill="#0000ff"/>
<polygon points="426.61,277.28 430.06,283.26 423.16,283.26" fill="#0000ff"/>
<polygon points="433.08,283.1 436.53,289.08 429.63,289.08" fill="#0000ff"/>
<polygon points="439.55,288.78 443,294.76 436.1,294.76" fill="#0000ff"/>
<polygon points="446.02,294.33 449.47,300.31 442.57,300.31" fill="#0000ff"/>
<polygon points="452.49,299.73 455.94,305.71 449.04,305.71" fill="#0000ff"/>
<polygon points="458.96,305 462.41,310.98 455.51,310.98" fill="#0000ff"/>
<polygon points="465.43,310.13 468.88,316.1 461.98,316.1" fill="#0000ff"/>
<polygon points="471.9,315.11 475.35,321.09 468.45,321.09" fill="#0000ff"/>
<polygon points="478.37,319.97 481.82,325.94 474.92,325.94" fill="#0000ff"/>
<polygon points="484.84,324.68 488.29,330.66 481.39,330.66" fill="#0000ff"/>
<polygon points="491.31,329.25 494.76,335.23 487.86,335.23" fill="#0000ff"/>
<polygon points="497.78,333.69 501.23,339.67 494.33,339.67" fill="#0000ff"/>
<polygon points="504.25,337.99 507.7,343.96 500.8,343.96" fill="#0000ff"/>
<polygon points="510.72,342.15 514.17,348.12 507.27,348.12" fill="#0000ff"/>
<polygon points="517.19,346.17 520.64,352.15 513.74,352.15" fill="#0000ff"/>
<polygon points="523.66,350.05 527.11,356.03 520.21,356.03" fill="#0000ff"/>
<polygon points="530.13,353.79 533.58,359.77 526.68,359.77" fill="#0000ff"/>
</g>
<clipPath id="cr12"><rect x="407.2" y="240.6" width="258.8" height="195.3"/></clipPath>
<g clip-path="url(#cr12)">
<polyline points="543.07,363.63 549.54,367.49 556.01,370.49 562.48,372.83 568.95,374.65 575.42,376.07 581.89,377.17 588.36,378.03 594.83,378.7 601.3,379.22 607.77,379.63 614.24,379.95 620.71,380.19 627.18,380.38 633.65,380.53 640.12,380.65 646.59,380.74 653.06,380.81 659.53,380.87 666,380.91" fill="none" stroke="#0000ff" stroke-width="1" stroke-linejoin="round" />
<polygon points="543.07,360.16 546.52,366.14 539.62,366.14" fill="#0000ff"/>
<polygon points="549.54,364.02 552.99,370 546.09,370" fill="#0000ff"/>
<polygon points="556.01,367.02 559.46,373 552.56,373" fill="#0000ff"/>
<polygon points="562.48,369.36 565.93,375.34 559.03,375.34" fill="#0000ff"/>
<polygon points="568.95,371.18 572.4,377.16 565.5,377.16" fill="#0000ff"/>
<polygon points="575.42,372.6 578.87,378.58 571.97,378.58" fill="#0000ff"/>
<polygon points="581.89,373.7 585.34,379.68 578.44,379.68" fill="#0000ff"/>
<polygon points="588.36,374.56 591.81,380.54 584.91,380.54" fill="#0000ff"/>
<polygon points="594.83,375.23 598.28,381.21 591.38,381.21" fill="#0000ff"/>
<polygon points="601.3,375.76 604.75,381.73 597.85,381.73" fill="#0000ff"/>
<polygon points="607.77,376.16 611.22,382.14 604.32,382.14" fill="#0000ff"/>
<polygon points="614.24,376.48 617.69,382.46 610.79,382.46" fill="#0000ff"/>
<polygon points="620.71,376.73 624.16,382.7 617.26,382.7" fill="#0000ff"/>
<polygon points="627.18,376.92 630.63,382.9 623.73,382.9" fill="#0000ff"/>
<polygon points="633.65,377.07 637.1,383.05 630.2,383.05" fill="#0000ff"/>
<polygon points="640.12,377.18 643.57,383.16 636.67,383.16" fill="#0000ff"/>
<polygon points="646.59,377.27 650.04,383.25 643.14,383.25" fill="#0000ff"/>
<polygon points="653.06,377.34 656.51,383.32 649.61,383.32" fill="#0000ff"/>
<polygon points="659.53,377.4 662.98,383.38 656.08,383.38" fill="#0000ff"/>
<polygon points="666,377.44 669.45,383.42 662.55,383.42" fill="#0000ff"/>
</g>
<rect x="407.5" y="244.5" width="259" height="191" fill="none" stroke="#111" stroke-width="1.3"/>
<line x1="407.5" y1="244.5" x2="411.5" y2="244.5" stroke="#111" stroke-width="1" />
<line x1="407.5" y1="265.5" x2="411.5" y2="265.5" stroke="#111" stroke-width="1" />
<line x1="407.5" y1="287.5" x2="411.5" y2="287.5" stroke="#111" stroke-width="1" />
<line x1="407.5" y1="308.5" x2="411.5" y2="308.5" stroke="#111" stroke-width="1" />
<line x1="407.5" y1="329.5" x2="411.5" y2="329.5" stroke="#111" stroke-width="1" />
<line x1="407.5" y1="350.5" x2="411.5" y2="350.5" stroke="#111" stroke-width="1" />
<line x1="407.5" y1="372.5" x2="411.5" y2="372.5" stroke="#111" stroke-width="1" />
<line x1="407.5" y1="393.5" x2="411.5" y2="393.5" stroke="#111" stroke-width="1" />
<line x1="407.5" y1="414.5" x2="411.5" y2="414.5" stroke="#111" stroke-width="1" />
<line x1="407.5" y1="435.5" x2="411.5" y2="435.5" stroke="#111" stroke-width="1" />
<line x1="407.5" y1="255.5" x2="409.7" y2="255.5" stroke="#111" stroke-width="1" />
<line x1="407.5" y1="276.5" x2="409.7" y2="276.5" stroke="#111" stroke-width="1" />
<line x1="407.5" y1="297.5" x2="409.7" y2="297.5" stroke="#111" stroke-width="1" />
<line x1="407.5" y1="318.5" x2="409.7" y2="318.5" stroke="#111" stroke-width="1" />
<line x1="407.5" y1="340.5" x2="409.7" y2="340.5" stroke="#111" stroke-width="1" />
<line x1="407.5" y1="361.5" x2="409.7" y2="361.5" stroke="#111" stroke-width="1" />
<line x1="407.5" y1="382.5" x2="409.7" y2="382.5" stroke="#111" stroke-width="1" />
<line x1="407.5" y1="404.5" x2="409.7" y2="404.5" stroke="#111" stroke-width="1" />
<line x1="407.5" y1="425.5" x2="409.7" y2="425.5" stroke="#111" stroke-width="1" />
<line x1="407.5" y1="435.5" x2="407.5" y2="431.5" stroke="#111" stroke-width="1" />
<line x1="471.5" y1="435.5" x2="471.5" y2="431.5" stroke="#111" stroke-width="1" />
<line x1="536.5" y1="435.5" x2="536.5" y2="431.5" stroke="#111" stroke-width="1" />
<line x1="601.5" y1="435.5" x2="601.5" y2="431.5" stroke="#111" stroke-width="1" />
<line x1="666.5" y1="435.5" x2="666.5" y2="431.5" stroke="#111" stroke-width="1" />
<line x1="439.5" y1="435.5" x2="439.5" y2="433.3" stroke="#111" stroke-width="1" />
<line x1="504.5" y1="435.5" x2="504.5" y2="433.3" stroke="#111" stroke-width="1" />
<line x1="568.5" y1="435.5" x2="568.5" y2="433.3" stroke="#111" stroke-width="1" />
<line x1="633.5" y1="435.5" x2="633.5" y2="433.3" stroke="#111" stroke-width="1" />
<text transform="translate(403.6,248.38) scale(1.05,1)" font-size="10.5" text-anchor="end" font-family='"Liberation Sans", sans-serif' >-65</text>
<text transform="translate(403.6,269.64) scale(1.05,1)" font-size="10.5" text-anchor="end" font-family='"Liberation Sans", sans-serif' >-70</text>
<text transform="translate(403.6,290.89) scale(1.05,1)" font-size="10.5" text-anchor="end" font-family='"Liberation Sans", sans-serif' >-75</text>
<text transform="translate(403.6,312.15) scale(1.05,1)" font-size="10.5" text-anchor="end" font-family='"Liberation Sans", sans-serif' >-80</text>
<text transform="translate(403.6,333.4) scale(1.05,1)" font-size="10.5" text-anchor="end" font-family='"Liberation Sans", sans-serif' >-85</text>
<text transform="translate(403.6,354.66) scale(1.05,1)" font-size="10.5" text-anchor="end" font-family='"Liberation Sans", sans-serif' >-90</text>
<text transform="translate(403.6,375.91) scale(1.05,1)" font-size="10.5" text-anchor="end" font-family='"Liberation Sans", sans-serif' >-95</text>
<text transform="translate(403.6,397.17) scale(1.05,1)" font-size="10.5" text-anchor="end" font-family='"Liberation Sans", sans-serif' >-100</text>
<text transform="translate(403.6,418.42) scale(1.05,1)" font-size="10.5" text-anchor="end" font-family='"Liberation Sans", sans-serif' >-105</text>
<text transform="translate(403.6,439.68) scale(1.05,1)" font-size="10.5" text-anchor="end" font-family='"Liberation Sans", sans-serif' >-110</text>
<text transform="translate(407.2,449) scale(1.05,1)" font-size="10.5" text-anchor="middle" font-family='"Liberation Sans", sans-serif' >-200</text>
<text transform="translate(471.9,449) scale(1.05,1)" font-size="10.5" text-anchor="middle" font-family='"Liberation Sans", sans-serif' >-100</text>
<text transform="translate(536.6,449) scale(1.05,1)" font-size="10.5" text-anchor="middle" font-family='"Liberation Sans", sans-serif' >0</text>
<text transform="translate(601.3,449) scale(1.05,1)" font-size="10.5" text-anchor="middle" font-family='"Liberation Sans", sans-serif' >100</text>
<text transform="translate(666,449) scale(1.05,1)" font-size="10.5" text-anchor="middle" font-family='"Liberation Sans", sans-serif' >200</text>
<text transform="translate(536.6,471.7) scale(1.04,1)" font-family='"Liberation Sans", sans-serif' font-size="15" text-anchor="middle"><tspan font-size="11">Δ</tspan>T(K)</text>
<text transform="translate(373.4,349.9) rotate(-90) scale(1,1.0)" font-size="15.6" text-anchor="middle" font-family='"Liberation Sans", sans-serif' >MR(%)</text>
<text transform="translate(342.5,263.3) scale(1.0,1)" font-size="23" text-anchor="start" font-family='"Liberation Serif", serif' >(e)</text>
<line x1="579.6" y1="260.5" x2="603.1" y2="260.5" stroke="#111" stroke-width="1" />
<rect x="589.2" y="257.4" width="5.4" height="5.4" fill="#000"/>
<text transform="translate(606.7,264.13) scale(1.0,1)" font-size="11.2" text-anchor="start" font-family='"Liberation Sans", sans-serif' >T<tspan dy="3.8" font-size="6.6">L</tspan><tspan dy="-3.8">=250K</tspan></text>
<line x1="579.6" y1="277.5" x2="603.1" y2="277.5" stroke="#d42a2a" stroke-width="1" />
<circle cx="591.9" cy="277.1" r="3.2" fill="#ff0000"/>
<text transform="translate(606.7,281.13) scale(1.0,1)" font-size="11.2" text-anchor="start" font-family='"Liberation Sans", sans-serif' >T<tspan dy="3.8" font-size="6.6">L</tspan><tspan dy="-3.8">=300K</tspan></text>
<line x1="579.6" y1="294.5" x2="603.1" y2="294.5" stroke="#2a2ac8" stroke-width="1" />
<polygon points="591.9,290.76 595.52,297.03 588.28,297.03" fill="#0000ff"/>
<text transform="translate(606.7,298.43) scale(1.0,1)" font-size="11.2" text-anchor="start" font-family='"Liberation Sans", sans-serif' >T<tspan dy="3.8" font-size="6.6">L</tspan><tspan dy="-3.8">=350K</tspan></text>
<line x1="536.7" y1="486.6" x2="536.7" y2="677.6" stroke="#888" stroke-width="0.8" stroke-dasharray="1.1,1.3"/>
<clipPath id="cr13"><rect x="407.2" y="482.6" width="259" height="195"/></clipPath>
<g clip-path="url(#cr13)">
<polyline points="407.2,672.84 413.68,672.64 420.15,672.39 426.62,672.1 433.1,671.75 439.57,671.33 446.05,670.83 452.52,670.22 459,669.49 465.48,668.61 471.95,667.55 478.43,666.27 484.9,664.73 491.38,662.89 497.85,660.67 504.32,657.99 510.8,654.77 517.27,650.9 523.75,646.24 530.23,640.64" fill="none" stroke="#000" stroke-width="1" stroke-linejoin="round" />
<rect x="404.4" y="670.04" width="5.6" height="5.6" fill="#000"/>
<rect x="410.88" y="669.84" width="5.6" height="5.6" fill="#000"/>
<rect x="417.35" y="669.59" width="5.6" height="5.6" fill="#000"/>
<rect x="423.82" y="669.3" width="5.6" height="5.6" fill="#000"/>
<rect x="430.3" y="668.95" width="5.6" height="5.6" fill="#000"/>
<rect x="436.77" y="668.53" width="5.6" height="5.6" fill="#000"/>
<rect x="443.25" y="668.03" width="5.6" height="5.6" fill="#000"/>
<rect x="449.72" y="667.42" width="5.6" height="5.6" fill="#000"/>
<rect x="456.2" y="666.69" width="5.6" height="5.6" fill="#000"/>
<rect x="462.68" y="665.81" width="5.6" height="5.6" fill="#000"/>
<rect x="469.15" y="664.75" width="5.6" height="5.6" fill="#000"/>
<rect x="475.62" y="663.47" width="5.6" height="5.6" fill="#000"/>
<rect x="482.1" y="661.93" width="5.6" height="5.6" fill="#000"/>
<rect x="488.57" y="660.09" width="5.6" height="5.6" fill="#000"/>
<rect x="495.05" y="657.87" width="5.6" height="5.6" fill="#000"/>
<rect x="501.52" y="655.19" width="5.6" height="5.6" fill="#000"/>
<rect x="508" y="651.97" width="5.6" height="5.6" fill="#000"/>
<rect x="514.48" y="648.1" width="5.6" height="5.6" fill="#000"/>
<rect x="520.95" y="643.44" width="5.6" height="5.6" fill="#000"/>
<rect x="527.43" y="637.84" width="5.6" height="5.6" fill="#000"/>
</g>
<clipPath id="cr14"><rect x="407.2" y="482.6" width="259" height="195"/></clipPath>
<g clip-path="url(#cr14)">
<polyline points="543.17,625.8 549.65,616.9 556.12,606.92 562.6,595.86 569.08,583.99 575.55,571.85 582.03,559.71 588.5,548.65 594.98,537.86 601.45,528.41 607.92,520.05 614.4,512.77 620.88,507.1 627.35,502.52 633.83,499.01 640.3,496.04 646.78,493.61 653.25,491.73 659.73,490.92 666.2,489.57" fill="none" stroke="#000" stroke-width="1" stroke-linejoin="round" />
<rect x="540.38" y="623" width="5.6" height="5.6" fill="#000"/>
<rect x="546.85" y="614.1" width="5.6" height="5.6" fill="#000"/>
<rect x="553.33" y="604.12" width="5.6" height="5.6" fill="#000"/>
<rect x="559.8" y="593.06" width="5.6" height="5.6" fill="#000"/>
<rect x="566.28" y="581.19" width="5.6" height="5.6" fill="#000"/>
<rect x="572.75" y="569.05" width="5.6" height="5.6" fill="#000"/>
<rect x="579.23" y="556.91" width="5.6" height="5.6" fill="#000"/>
<rect x="585.7" y="545.85" width="5.6" height="5.6" fill="#000"/>
<rect x="592.18" y="535.06" width="5.6" height="5.6" fill="#000"/>
<rect x="598.65" y="525.61" width="5.6" height="5.6" fill="#000"/>
<rect x="605.12" y="517.25" width="5.6" height="5.6" fill="#000"/>
<rect x="611.6" y="509.97" width="5.6" height="5.6" fill="#000"/>
<rect x="618.08" y="504.3" width="5.6" height="5.6" fill="#000"/>
<rect x="624.55" y="499.72" width="5.6" height="5.6" fill="#000"/>
<rect x="631.03" y="496.21" width="5.6" height="5.6" fill="#000"/>
<rect x="637.5" y="493.24" width="5.6" height="5.6" fill="#000"/>
<rect x="643.98" y="490.81" width="5.6" height="5.6" fill="#000"/>
<rect x="650.45" y="488.93" width="5.6" height="5.6" fill="#000"/>
<rect x="656.93" y="488.12" width="5.6" height="5.6" fill="#000"/>
<rect x="663.4" y="486.77" width="5.6" height="5.6" fill="#000"/>
</g>
<clipPath id="cr15"><rect x="407.2" y="482.6" width="259" height="195"/></clipPath>
<g clip-path="url(#cr15)">
<polyline points="407.2,672.87 413.68,672.76 420.15,672.63 426.62,672.49 433.1,672.34 439.57,672.17 446.05,671.97 452.52,671.76 459,671.52 465.48,671.25 471.95,670.95 478.43,670.62 484.9,670.24 491.38,669.83 497.85,669.36 504.32,668.84 510.8,668.26 517.27,667.62 523.75,666.9 530.23,666.09" fill="none" stroke="#ff0000" stroke-width="1" stroke-linejoin="round" />
<circle cx="407.2" cy="672.87" r="3.2" fill="#ff0000"/>
<circle cx="413.68" cy="672.76" r="3.2" fill="#ff0000"/>
<circle cx="420.15" cy="672.63" r="3.2" fill="#ff0000"/>
<circle cx="426.62" cy="672.49" r="3.2" fill="#ff0000"/>
<circle cx="433.1" cy="672.34" r="3.2" fill="#ff0000"/>
<circle cx="439.57" cy="672.17" r="3.2" fill="#ff0000"/>
<circle cx="446.05" cy="671.97" r="3.2" fill="#ff0000"/>
<circle cx="452.52" cy="671.76" r="3.2" fill="#ff0000"/>
<circle cx="459" cy="671.52" r="3.2" fill="#ff0000"/>
<circle cx="465.48" cy="671.25" r="3.2" fill="#ff0000"/>
<circle cx="471.95" cy="670.95" r="3.2" fill="#ff0000"/>
<circle cx="478.43" cy="670.62" r="3.2" fill="#ff0000"/>
<circle cx="484.9" cy="670.24" r="3.2" fill="#ff0000"/>
<circle cx="491.38" cy="669.83" r="3.2" fill="#ff0000"/>
<circle cx="497.85" cy="669.36" r="3.2" fill="#ff0000"/>
<circle cx="504.32" cy="668.84" r="3.2" fill="#ff0000"/>
<circle cx="510.8" cy="668.26" r="3.2" fill="#ff0000"/>
<circle cx="517.27" cy="667.62" r="3.2" fill="#ff0000"/>
<circle cx="523.75" cy="666.9" r="3.2" fill="#ff0000"/>
<circle cx="530.23" cy="666.09" r="3.2" fill="#ff0000"/>
</g>
<clipPath id="cr16"><rect x="407.2" y="482.6" width="259" height="195"/></clipPath>
<g clip-path="url(#cr16)">
<polyline points="543.17,664.11 549.65,662.25 556.12,660.59 562.6,658.93 569.08,657.07 575.55,655 582.03,652.72 588.5,650.65 594.98,648.79 601.45,646.72 607.92,644.85 614.4,642.99 620.88,641.33 627.35,639.88 633.83,638.43 640.3,637.4 646.78,636.36 653.25,635.53 659.73,635.12 666.2,634.71" fill="none" stroke="#ff0000" stroke-width="1" stroke-linejoin="round" />
<circle cx="543.17" cy="664.11" r="3.2" fill="#ff0000"/>
<circle cx="549.65" cy="662.25" r="3.2" fill="#ff0000"/>
<circle cx="556.12" cy="660.59" r="3.2" fill="#ff0000"/>
<circle cx="562.6" cy="658.93" r="3.2" fill="#ff0000"/>
<circle cx="569.08" cy="657.07" r="3.2" fill="#ff0000"/>
<circle cx="575.55" cy="655" r="3.2" fill="#ff0000"/>
<circle cx="582.03" cy="652.72" r="3.2" fill="#ff0000"/>
<circle cx="588.5" cy="650.65" r="3.2" fill="#ff0000"/>
<circle cx="594.98" cy="648.79" r="3.2" fill="#ff0000"/>
<circle cx="601.45" cy="646.72" r="3.2" fill="#ff0000"/>
<circle cx="607.92" cy="644.85" r="3.2" fill="#ff0000"/>
<circle cx="614.4" cy="642.99" r="3.2" fill="#ff0000"/>
<circle cx="620.88" cy="641.33" r="3.2" fill="#ff0000"/>
<circle cx="627.35" cy="639.88" r="3.2" fill="#ff0000"/>
<circle cx="633.83" cy="638.43" r="3.2" fill="#ff0000"/>
<circle cx="640.3" cy="637.4" r="3.2" fill="#ff0000"/>
<circle cx="646.78" cy="636.36" r="3.2" fill="#ff0000"/>
<circle cx="653.25" cy="635.53" r="3.2" fill="#ff0000"/>
<circle cx="659.73" cy="635.12" r="3.2" fill="#ff0000"/>
<circle cx="666.2" cy="634.71" r="3.2" fill="#ff0000"/>
</g>
<clipPath id="cr17"><rect x="407.2" y="482.6" width="259" height="195"/></clipPath>
<g clip-path="url(#cr17)">
<polyline points="407.2,674.19 413.68,674.15 420.15,674.1 426.62,674.04 433.1,673.98 439.57,673.91 446.05,673.83 452.52,673.75 459,673.66 465.48,673.55 471.95,673.44 478.43,673.32 484.9,673.18 491.38,673.02 497.85,672.86 504.32,672.67 510.8,672.46 517.27,672.23 523.75,671.98 530.23,671.7" fill="none" stroke="#0000ff" stroke-width="1" stroke-linejoin="round" />
<polygon points="407.2,670.73 410.65,676.71 403.75,676.71" fill="#0000ff"/>
<polygon points="413.68,670.68 417.12,676.66 410.23,676.66" fill="#0000ff"/>
<polygon points="420.15,670.63 423.6,676.61 416.7,676.61" fill="#0000ff"/>
<polygon points="426.62,670.57 430.07,676.55 423.18,676.55" fill="#0000ff"/>
<polygon points="433.1,670.51 436.55,676.49 429.65,676.49" fill="#0000ff"/>
<polygon points="439.57,670.44 443.02,676.42 436.13,676.42" fill="#0000ff"/>
<polygon points="446.05,670.37 449.5,676.34 442.6,676.34" fill="#0000ff"/>
<polygon points="452.52,670.28 455.97,676.26 449.08,676.26" fill="#0000ff"/>
<polygon points="459,670.19 462.45,676.17 455.55,676.17" fill="#0000ff"/>
<polygon points="465.48,670.09 468.92,676.07 462.03,676.07" fill="#0000ff"/>
<polygon points="471.95,669.97 475.4,675.95 468.5,675.95" fill="#0000ff"/>
<polygon points="478.43,669.85 481.87,675.83 474.98,675.83" fill="#0000ff"/>
<polygon points="484.9,669.71 488.35,675.69 481.45,675.69" fill="#0000ff"/>
<polygon points="491.38,669.56 494.82,675.54 487.93,675.54" fill="#0000ff"/>
<polygon points="497.85,669.39 501.3,675.37 494.4,675.37" fill="#0000ff"/>
<polygon points="504.32,669.2 507.77,675.18 500.88,675.18" fill="#0000ff"/>
<polygon points="510.8,669 514.25,674.97 507.35,674.97" fill="#0000ff"/>
<polygon points="517.27,668.77 520.72,674.75 513.83,674.75" fill="#0000ff"/>
<polygon points="523.75,668.51 527.2,674.49 520.3,674.49" fill="#0000ff"/>
<polygon points="530.23,668.24 533.67,674.21 526.78,674.21" fill="#0000ff"/>
</g>
<clipPath id="cr18"><rect x="407.2" y="482.6" width="259" height="195"/></clipPath>
<g clip-path="url(#cr18)">
<polyline points="543.17,671.13 549.65,670.73 556.12,670.29 562.6,669.82 569.08,669.33 575.55,668.83 582.03,668.32 588.5,667.8 594.98,667.27 601.45,666.74 607.92,666.2 614.4,665.65 620.88,665.1 627.35,664.55 633.83,663.99 640.3,663.43 646.78,662.86 653.25,662.29 659.73,661.72 666.2,661.14" fill="none" stroke="#0000ff" stroke-width="1" stroke-linejoin="round" />
<polygon points="543.17,667.66 546.62,673.64 539.73,673.64" fill="#0000ff"/>
<polygon points="549.65,667.27 553.1,673.24 546.2,673.24" fill="#0000ff"/>
<polygon points="556.12,666.82 559.57,672.8 552.68,672.8" fill="#0000ff"/>
<polygon points="562.6,666.35 566.05,672.33 559.15,672.33" fill="#0000ff"/>
<polygon points="569.08,665.86 572.52,671.84 565.63,671.84" fill="#0000ff"/>
<polygon points="575.55,665.36 579,671.34 572.1,671.34" fill="#0000ff"/>
<polygon points="582.03,664.85 585.47,670.83 578.58,670.83" fill="#0000ff"/>
<polygon points="588.5,664.33 591.95,670.31 585.05,670.31" fill="#0000ff"/>
<polygon points="594.98,663.8 598.42,669.78 591.53,669.78" fill="#0000ff"/>
<polygon points="601.45,663.27 604.9,669.25 598,669.25" fill="#0000ff"/>
<polygon points="607.92,662.73 611.37,668.71 604.48,668.71" fill="#0000ff"/>
<polygon points="614.4,662.19 617.85,668.16 610.95,668.16" fill="#0000ff"/>
<polygon points="620.88,661.64 624.32,667.62 617.43,667.62" fill="#0000ff"/>
<polygon points="627.35,661.08 630.8,667.06 623.9,667.06" fill="#0000ff"/>
<polygon points="633.83,660.52 637.27,666.5 630.38,666.5" fill="#0000ff"/>
<polygon points="640.3,659.96 643.75,665.94 636.85,665.94" fill="#0000ff"/>
<polygon points="646.78,659.4 650.22,665.37 643.33,665.37" fill="#0000ff"/>
<polygon points="653.25,658.83 656.7,664.8 649.8,664.8" fill="#0000ff"/>
<polygon points="659.73,658.25 663.17,664.23 656.28,664.23" fill="#0000ff"/>
<polygon points="666.2,657.68 669.65,663.65 662.75,663.65" fill="#0000ff"/>
</g>
<rect x="407.5" y="486.5" width="259" height="191" fill="none" stroke="#111" stroke-width="1.3"/>
<line x1="407.5" y1="675.5" x2="411.5" y2="675.5" stroke="#111" stroke-width="1" />
<line x1="407.5" y1="648.5" x2="411.5" y2="648.5" stroke="#111" stroke-width="1" />
<line x1="407.5" y1="621.5" x2="411.5" y2="621.5" stroke="#111" stroke-width="1" />
<line x1="407.5" y1="594.5" x2="411.5" y2="594.5" stroke="#111" stroke-width="1" />
<line x1="407.5" y1="567.5" x2="411.5" y2="567.5" stroke="#111" stroke-width="1" />
<line x1="407.5" y1="540.5" x2="411.5" y2="540.5" stroke="#111" stroke-width="1" />
<line x1="407.5" y1="513.5" x2="411.5" y2="513.5" stroke="#111" stroke-width="1" />
<line x1="407.5" y1="486.5" x2="411.5" y2="486.5" stroke="#111" stroke-width="1" />
<line x1="407.5" y1="661.5" x2="409.7" y2="661.5" stroke="#111" stroke-width="1" />
<line x1="407.5" y1="634.5" x2="409.7" y2="634.5" stroke="#111" stroke-width="1" />
<line x1="407.5" y1="607.5" x2="409.7" y2="607.5" stroke="#111" stroke-width="1" />
<line x1="407.5" y1="581.5" x2="409.7" y2="581.5" stroke="#111" stroke-width="1" />
<line x1="407.5" y1="554.5" x2="409.7" y2="554.5" stroke="#111" stroke-width="1" />
<line x1="407.5" y1="527.5" x2="409.7" y2="527.5" stroke="#111" stroke-width="1" />
<line x1="407.5" y1="500.5" x2="409.7" y2="500.5" stroke="#111" stroke-width="1" />
<line x1="407.5" y1="677.5" x2="407.5" y2="673.5" stroke="#111" stroke-width="1" />
<line x1="471.5" y1="677.5" x2="471.5" y2="673.5" stroke="#111" stroke-width="1" />
<line x1="536.5" y1="677.5" x2="536.5" y2="673.5" stroke="#111" stroke-width="1" />
<line x1="601.5" y1="677.5" x2="601.5" y2="673.5" stroke="#111" stroke-width="1" />
<line x1="666.5" y1="677.5" x2="666.5" y2="673.5" stroke="#111" stroke-width="1" />
<line x1="439.5" y1="677.5" x2="439.5" y2="675.3" stroke="#111" stroke-width="1" />
<line x1="504.5" y1="677.5" x2="504.5" y2="675.3" stroke="#111" stroke-width="1" />
<line x1="569.5" y1="677.5" x2="569.5" y2="675.3" stroke="#111" stroke-width="1" />
<line x1="633.5" y1="677.5" x2="633.5" y2="675.3" stroke="#111" stroke-width="1" />
<text transform="translate(402.6,490.98) scale(1.05,1)" font-size="10.5" text-anchor="end" font-family='"Liberation Sans", sans-serif' >7x10<tspan dx="-0.6" dy="-4.41" font-size="7.14">5</tspan></text>
<text transform="translate(402.6,517.36) scale(1.05,1)" font-size="10.5" text-anchor="end" font-family='"Liberation Sans", sans-serif' >6x10<tspan dx="-0.6" dy="-4.41" font-size="7.14">5</tspan></text>
<text transform="translate(402.6,544.33) scale(1.05,1)" font-size="10.5" text-anchor="end" font-family='"Liberation Sans", sans-serif' >5x10<tspan dx="-0.6" dy="-4.41" font-size="7.14">5</tspan></text>
<text transform="translate(402.6,571.31) scale(1.05,1)" font-size="10.5" text-anchor="end" font-family='"Liberation Sans", sans-serif' >4x10<tspan dx="-0.6" dy="-4.41" font-size="7.14">5</tspan></text>
<text transform="translate(402.6,598.29) scale(1.05,1)" font-size="10.5" text-anchor="end" font-family='"Liberation Sans", sans-serif' >3x10<tspan dx="-0.6" dy="-4.41" font-size="7.14">5</tspan></text>
<text transform="translate(402.6,625.27) scale(1.05,1)" font-size="10.5" text-anchor="end" font-family='"Liberation Sans", sans-serif' >2x10<tspan dx="-0.6" dy="-4.41" font-size="7.14">5</tspan></text>
<text transform="translate(402.6,652.24) scale(1.05,1)" font-size="10.5" text-anchor="end" font-family='"Liberation Sans", sans-serif' >1x10<tspan dx="-0.6" dy="-4.41" font-size="7.14">5</tspan></text>
<text transform="translate(402.6,678.62) scale(1.05,1)" font-size="10.5" text-anchor="end" font-family='"Liberation Sans", sans-serif' >0</text>
<text transform="translate(407.2,690.7) scale(1.05,1)" font-size="10.5" text-anchor="middle" font-family='"Liberation Sans", sans-serif' >-200</text>
<text transform="translate(471.95,690.7) scale(1.05,1)" font-size="10.5" text-anchor="middle" font-family='"Liberation Sans", sans-serif' >-100</text>
<text transform="translate(536.7,690.7) scale(1.05,1)" font-size="10.5" text-anchor="middle" font-family='"Liberation Sans", sans-serif' >0</text>
<text transform="translate(601.45,690.7) scale(1.05,1)" font-size="10.5" text-anchor="middle" font-family='"Liberation Sans", sans-serif' >100</text>
<text transform="translate(666.2,690.7) scale(1.05,1)" font-size="10.5" text-anchor="middle" font-family='"Liberation Sans", sans-serif' >200</text>
<text transform="translate(536.7,713.2) scale(1.04,1)" font-family='"Liberation Sans", sans-serif' font-size="15" text-anchor="middle"><tspan font-size="11">Δ</tspan>T(K)</text>
<text transform="translate(367.8,591.3) rotate(-90) scale(1,1.0)" font-size="15.6" text-anchor="middle" font-family='"Liberation Sans", sans-serif' >MR(%)</text>
<text transform="translate(345.5,504.2) scale(1.0,1)" font-size="23" text-anchor="start" font-family='"Liberation Serif", serif' >(f)</text>
<line x1="421.7" y1="500.5" x2="446.6" y2="500.5" stroke="#111" stroke-width="1" />
<rect x="431.6" y="497.7" width="5.4" height="5.4" fill="#000"/>
<text transform="translate(450.1,504.43) scale(1.0,1)" font-size="11.2" text-anchor="start" font-family='"Liberation Sans", sans-serif' >T<tspan dy="3.8" font-size="6.6">L</tspan><tspan dy="-3.8">=250K</tspan></text>
<line x1="421.7" y1="517.5" x2="446.6" y2="517.5" stroke="#d42a2a" stroke-width="1" />
<circle cx="434.3" cy="517.4" r="3.2" fill="#ff0000"/>
<text transform="translate(450.1,521.43) scale(1.0,1)" font-size="11.2" text-anchor="start" font-family='"Liberation Sans", sans-serif' >T<tspan dy="3.8" font-size="6.6">L</tspan><tspan dy="-3.8">=300K</tspan></text>
<line x1="421.7" y1="534.5" x2="446.6" y2="534.5" stroke="#2a2ac8" stroke-width="1" />
<polygon points="434.3,530.76 437.92,537.03 430.68,537.03" fill="#0000ff"/>
<text transform="translate(450.1,538.43) scale(1.0,1)" font-size="11.2" text-anchor="start" font-family='"Liberation Sans", sans-serif' >T<tspan dy="3.8" font-size="6.6">L</tspan><tspan dy="-3.8">=350K</tspan></text>
</svg>
</body></html>
